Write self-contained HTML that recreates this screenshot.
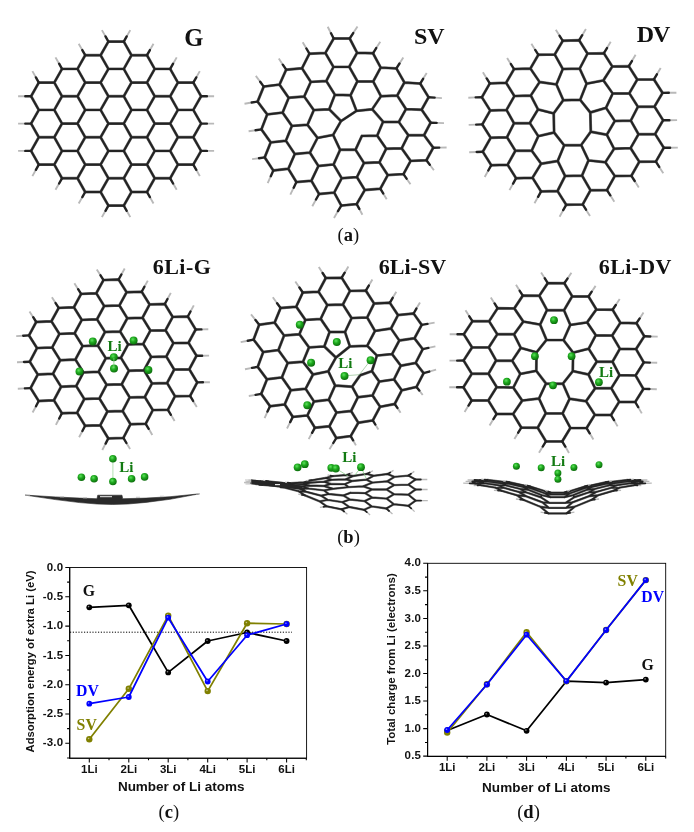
<!DOCTYPE html>
<html><head><meta charset="utf-8"><title>Figure</title>
<style>html,body{margin:0;padding:0;background:#fff}svg{display:block}</style>
</head><body>
<svg width="694" height="832" viewBox="0 0 694 832">
<defs><radialGradient id="li" cx="0.4" cy="0.35" r="0.65"><stop offset="0" stop-color="#5fe25f"/><stop offset="0.45" stop-color="#1faa1f"/><stop offset="1" stop-color="#0c6e0c"/></radialGradient></defs>
<rect width="694" height="832" fill="#fff"/>
<path d="M62.0 96.3L54.3 109.9M62.0 96.3L54.3 82.6M62.0 96.3L77.5 96.3M54.3 109.9L38.8 109.9M54.3 109.9L62.0 123.6M38.8 109.9L31.1 96.3M38.8 109.9L31.1 123.6M31.1 96.3L38.8 82.6M38.8 82.6L54.3 82.6M54.3 82.6L62.0 68.9M62.0 123.6L54.3 137.3M62.0 123.6L77.5 123.6M54.3 137.3L38.8 137.3M54.3 137.3L62.0 150.9M38.8 137.3L31.1 123.6M38.8 137.3L31.1 150.9M62.0 150.9L54.3 164.6M62.0 150.9L77.5 150.9M54.3 164.6L38.8 164.6M54.3 164.6L62.0 178.3M38.8 164.6L31.1 150.9M85.2 82.6L77.5 96.3M85.2 82.6L77.5 68.9M85.2 82.6L100.6 82.6M77.5 96.3L85.2 109.9M62.0 68.9L77.5 68.9M77.5 68.9L85.2 55.2M85.2 109.9L77.5 123.6M85.2 109.9L100.6 109.9M77.5 123.6L85.2 137.3M85.2 137.3L77.5 150.9M85.2 137.3L100.6 137.3M77.5 150.9L85.2 164.6M85.2 164.6L77.5 178.3M85.2 164.6L100.6 164.6M77.5 178.3L62.0 178.3M77.5 178.3L85.2 192.0M108.4 68.9L100.6 82.6M108.4 68.9L100.6 55.2M108.4 68.9L123.8 68.9M100.6 82.6L108.4 96.3M85.2 55.2L100.6 55.2M100.6 55.2L108.4 41.6M108.4 96.3L100.6 109.9M108.4 96.3L123.8 96.3M100.6 109.9L108.4 123.6M108.4 123.6L100.6 137.3M108.4 123.6L123.8 123.6M100.6 137.3L108.4 150.9M108.4 150.9L100.6 164.6M108.4 150.9L123.8 150.9M100.6 164.6L108.4 178.3M108.4 178.3L100.6 192.0M108.4 178.3L123.8 178.3M100.6 192.0L85.2 192.0M100.6 192.0L108.4 205.6M131.5 55.2L123.8 68.9M131.5 55.2L123.8 41.6M131.5 55.2L147.0 55.2M123.8 68.9L131.5 82.6M108.4 41.6L123.8 41.6M131.5 82.6L123.8 96.3M131.5 82.6L147.0 82.6M123.8 96.3L131.5 109.9M131.5 109.9L123.8 123.6M131.5 109.9L147.0 109.9M123.8 123.6L131.5 137.3M131.5 137.3L123.8 150.9M131.5 137.3L147.0 137.3M123.8 150.9L131.5 164.6M131.5 164.6L123.8 178.3M131.5 164.6L147.0 164.6M123.8 178.3L131.5 192.0M131.5 192.0L123.8 205.6M131.5 192.0L147.0 192.0M123.8 205.6L108.4 205.6M154.7 68.9L147.0 82.6M154.7 68.9L147.0 55.2M154.7 68.9L170.2 68.9M147.0 82.6L154.7 96.3M154.7 96.3L147.0 109.9M154.7 96.3L170.2 96.3M147.0 109.9L154.7 123.6M154.7 123.6L147.0 137.3M154.7 123.6L170.2 123.6M147.0 137.3L154.7 150.9M154.7 150.9L147.0 164.6M154.7 150.9L170.2 150.9M147.0 164.6L154.7 178.3M154.7 178.3L147.0 192.0M154.7 178.3L170.2 178.3M177.9 82.6L170.2 96.3M177.9 82.6L170.2 68.9M177.9 82.6L193.3 82.6M170.2 96.3L177.9 109.9M177.9 109.9L170.2 123.6M177.9 109.9L193.3 109.9M170.2 123.6L177.9 137.3M177.9 137.3L170.2 150.9M177.9 137.3L193.3 137.3M170.2 150.9L177.9 164.6M177.9 164.6L170.2 178.3M177.9 164.6L193.3 164.6M201.1 96.3L193.3 109.9M201.1 96.3L193.3 82.6M193.3 109.9L201.1 123.6M201.1 123.6L193.3 137.3M193.3 137.3L201.1 150.9M201.1 150.9L193.3 164.6" stroke="#7a7a7a" stroke-width="2.90" stroke-linecap="round" fill="none"/>
<path d="M62.0 96.3L54.3 109.9M62.0 96.3L54.3 82.6M62.0 96.3L77.5 96.3M54.3 109.9L38.8 109.9M54.3 109.9L62.0 123.6M38.8 109.9L31.1 96.3M38.8 109.9L31.1 123.6M31.1 96.3L38.8 82.6M38.8 82.6L54.3 82.6M54.3 82.6L62.0 68.9M62.0 123.6L54.3 137.3M62.0 123.6L77.5 123.6M54.3 137.3L38.8 137.3M54.3 137.3L62.0 150.9M38.8 137.3L31.1 123.6M38.8 137.3L31.1 150.9M62.0 150.9L54.3 164.6M62.0 150.9L77.5 150.9M54.3 164.6L38.8 164.6M54.3 164.6L62.0 178.3M38.8 164.6L31.1 150.9M85.2 82.6L77.5 96.3M85.2 82.6L77.5 68.9M85.2 82.6L100.6 82.6M77.5 96.3L85.2 109.9M62.0 68.9L77.5 68.9M77.5 68.9L85.2 55.2M85.2 109.9L77.5 123.6M85.2 109.9L100.6 109.9M77.5 123.6L85.2 137.3M85.2 137.3L77.5 150.9M85.2 137.3L100.6 137.3M77.5 150.9L85.2 164.6M85.2 164.6L77.5 178.3M85.2 164.6L100.6 164.6M77.5 178.3L62.0 178.3M77.5 178.3L85.2 192.0M108.4 68.9L100.6 82.6M108.4 68.9L100.6 55.2M108.4 68.9L123.8 68.9M100.6 82.6L108.4 96.3M85.2 55.2L100.6 55.2M100.6 55.2L108.4 41.6M108.4 96.3L100.6 109.9M108.4 96.3L123.8 96.3M100.6 109.9L108.4 123.6M108.4 123.6L100.6 137.3M108.4 123.6L123.8 123.6M100.6 137.3L108.4 150.9M108.4 150.9L100.6 164.6M108.4 150.9L123.8 150.9M100.6 164.6L108.4 178.3M108.4 178.3L100.6 192.0M108.4 178.3L123.8 178.3M100.6 192.0L85.2 192.0M100.6 192.0L108.4 205.6M131.5 55.2L123.8 68.9M131.5 55.2L123.8 41.6M131.5 55.2L147.0 55.2M123.8 68.9L131.5 82.6M108.4 41.6L123.8 41.6M131.5 82.6L123.8 96.3M131.5 82.6L147.0 82.6M123.8 96.3L131.5 109.9M131.5 109.9L123.8 123.6M131.5 109.9L147.0 109.9M123.8 123.6L131.5 137.3M131.5 137.3L123.8 150.9M131.5 137.3L147.0 137.3M123.8 150.9L131.5 164.6M131.5 164.6L123.8 178.3M131.5 164.6L147.0 164.6M123.8 178.3L131.5 192.0M131.5 192.0L123.8 205.6M131.5 192.0L147.0 192.0M123.8 205.6L108.4 205.6M154.7 68.9L147.0 82.6M154.7 68.9L147.0 55.2M154.7 68.9L170.2 68.9M147.0 82.6L154.7 96.3M154.7 96.3L147.0 109.9M154.7 96.3L170.2 96.3M147.0 109.9L154.7 123.6M154.7 123.6L147.0 137.3M154.7 123.6L170.2 123.6M147.0 137.3L154.7 150.9M154.7 150.9L147.0 164.6M154.7 150.9L170.2 150.9M147.0 164.6L154.7 178.3M154.7 178.3L147.0 192.0M154.7 178.3L170.2 178.3M177.9 82.6L170.2 96.3M177.9 82.6L170.2 68.9M177.9 82.6L193.3 82.6M170.2 96.3L177.9 109.9M177.9 109.9L170.2 123.6M177.9 109.9L193.3 109.9M170.2 123.6L177.9 137.3M177.9 137.3L170.2 150.9M177.9 137.3L193.3 137.3M170.2 150.9L177.9 164.6M177.9 164.6L170.2 178.3M177.9 164.6L193.3 164.6M201.1 96.3L193.3 109.9M201.1 96.3L193.3 82.6M193.3 109.9L201.1 123.6M201.1 123.6L193.3 137.3M193.3 137.3L201.1 150.9M201.1 150.9L193.3 164.6" stroke="#232323" stroke-width="2.05" stroke-linecap="round" fill="none"/>
<path d="M25.3 96.3L18.1 96.3M35.9 77.4L32.4 71.1M25.3 123.6L18.1 123.6M35.9 169.8L32.4 176.1M25.3 150.9L18.1 150.9M59.1 63.7L55.5 57.4M59.1 183.5L55.5 189.8M82.3 50.1L78.7 43.7M82.3 197.1L78.7 203.5M105.5 36.4L101.9 30.1M126.7 36.4L130.3 30.1M126.7 210.8L130.3 217.1M105.5 210.8L101.9 217.1M149.9 50.1L153.5 43.7M149.9 197.1L153.5 203.5M173.1 63.7L176.7 57.4M173.1 183.5L176.7 189.8M206.9 96.3L214.1 96.3M196.3 77.4L199.8 71.1M206.9 123.6L214.1 123.6M206.9 150.9L214.1 150.9M196.3 169.8L199.8 176.1" stroke="#b9b9b9" stroke-width="1.9" stroke-linecap="butt" fill="none"/>
<path d="M31.1 96.3L25.3 96.3M38.8 82.6L35.9 77.4M31.1 123.6L25.3 123.6M38.8 164.6L35.9 169.8M31.1 150.9L25.3 150.9M62.0 68.9L59.1 63.7M62.0 178.3L59.1 183.5M85.2 55.2L82.3 50.1M85.2 192.0L82.3 197.1M108.4 41.6L105.5 36.4M123.8 41.6L126.7 36.4M123.8 205.6L126.7 210.8M108.4 205.6L105.5 210.8M147.0 55.2L149.9 50.1M147.0 192.0L149.9 197.1M170.2 68.9L173.1 63.7M170.2 178.3L173.1 183.5M201.1 96.3L206.9 96.3M193.3 82.6L196.3 77.4M201.1 123.6L206.9 123.6M201.1 150.9L206.9 150.9M193.3 164.6L196.3 169.8" stroke="#232323" stroke-width="2.4" stroke-linecap="round" fill="none"/>
<path d="M288.7 97.8L282.6 112.6M288.7 97.8L279.5 84.6M288.7 97.8L304.2 96.5M282.6 112.6L267.2 114.4M282.6 112.6L291.9 125.9M267.2 114.4L257.6 101.6M267.2 114.4L261.4 129.4M257.6 101.6L263.7 86.6M263.7 86.6L279.5 84.6M279.5 84.6L286.2 69.7M291.9 125.9L285.9 140.7M291.9 125.9L307.5 124.8M285.9 140.7L270.7 142.4M285.9 140.7L294.8 154.0M270.7 142.4L261.4 129.4M270.7 142.4L264.7 157.4M294.8 154.0L288.3 168.8M294.8 154.0L309.9 152.6M288.3 168.8L273.3 170.5M288.3 168.8L296.4 182.1M273.3 170.5L264.7 157.4M310.8 81.9L304.2 96.5M310.8 81.9L302.0 68.3M310.8 81.9L326.3 81.0M304.2 96.5L313.8 110.1M286.2 69.7L302.0 68.3M302.0 68.3L309.4 53.7M313.8 110.1L307.5 124.8M313.8 110.1L329.2 109.3M307.5 124.8L317.5 137.9M317.5 137.9L309.9 152.6M317.5 137.9L333.1 134.9M309.9 152.6L318.4 166.0M318.4 166.0L311.4 180.7M318.4 166.0L333.6 164.4M311.4 180.7L296.4 182.1M311.4 180.7L319.1 194.0M333.5 66.9L326.3 81.0M333.5 66.9L325.4 52.9M333.5 66.9L349.2 66.8M326.3 81.0L334.9 94.7M309.4 53.7L325.4 52.9M325.4 52.9L333.7 38.5M334.9 94.7L329.2 109.3M334.9 94.7L350.5 95.3M329.2 109.3L341.0 121.1M341.0 121.1L333.1 134.9M333.1 134.9L340.1 149.8M340.1 149.8L333.6 164.4M340.1 149.8L355.5 149.8M333.6 164.4L341.7 178.2M341.7 178.2L334.2 192.6M341.7 178.2L356.9 177.1M334.2 192.6L319.1 194.0M334.2 192.6L341.3 205.6M357.1 52.8L349.2 66.8M357.1 52.8L349.7 38.5M357.1 52.8L373.0 53.3M349.2 66.8L357.4 81.2M333.7 38.5L349.7 38.5M357.4 81.2L350.5 95.3M357.4 81.2L373.2 81.5M350.5 95.3L356.5 110.9M356.5 110.9L372.2 109.2M361.9 135.9L355.5 149.8M361.9 135.9L377.2 135.6M355.5 149.8L364.0 163.0M364.0 163.0L356.9 177.1M364.0 163.0L379.4 162.3M356.9 177.1L364.8 190.0M364.8 190.0L356.7 204.1M364.8 190.0L380.3 188.7M356.7 204.1L341.3 205.6M380.7 67.6L373.2 81.5M380.7 67.6L373.0 53.3M380.7 67.6L396.4 68.4M373.2 81.5L381.0 96.2M381.0 96.2L372.2 109.2M381.0 96.2L397.2 95.5M372.2 109.2L383.1 121.7M383.1 121.7L377.2 135.6M383.1 121.7L398.8 122.0M377.2 135.6L386.2 148.7M386.2 148.7L379.4 162.3M386.2 148.7L401.7 148.3M379.4 162.3L387.8 175.1M387.8 175.1L380.3 188.7M387.8 175.1L403.5 174.1M404.4 82.5L397.2 95.5M404.4 82.5L396.4 68.4M404.4 82.5L420.2 83.6M397.2 95.5L406.0 109.1M406.0 109.1L398.8 122.0M406.0 109.1L421.6 109.7M398.8 122.0L408.3 135.2M408.3 135.2L401.7 148.3M408.3 135.2L424.0 135.2M401.7 148.3L410.6 160.9M410.6 160.9L403.5 174.1M410.6 160.9L426.4 160.3M428.6 97.2L421.6 109.7M428.6 97.2L420.2 83.6M421.6 109.7L430.6 122.7M430.6 122.7L424.0 135.2M424.0 135.2L433.2 147.7M433.2 147.7L426.4 160.3M341.0 121.1L356.5 110.9" stroke="#7a7a7a" stroke-width="2.90" stroke-linecap="round" fill="none"/>
<path d="M288.7 97.8L282.6 112.6M288.7 97.8L279.5 84.6M288.7 97.8L304.2 96.5M282.6 112.6L267.2 114.4M282.6 112.6L291.9 125.9M267.2 114.4L257.6 101.6M267.2 114.4L261.4 129.4M257.6 101.6L263.7 86.6M263.7 86.6L279.5 84.6M279.5 84.6L286.2 69.7M291.9 125.9L285.9 140.7M291.9 125.9L307.5 124.8M285.9 140.7L270.7 142.4M285.9 140.7L294.8 154.0M270.7 142.4L261.4 129.4M270.7 142.4L264.7 157.4M294.8 154.0L288.3 168.8M294.8 154.0L309.9 152.6M288.3 168.8L273.3 170.5M288.3 168.8L296.4 182.1M273.3 170.5L264.7 157.4M310.8 81.9L304.2 96.5M310.8 81.9L302.0 68.3M310.8 81.9L326.3 81.0M304.2 96.5L313.8 110.1M286.2 69.7L302.0 68.3M302.0 68.3L309.4 53.7M313.8 110.1L307.5 124.8M313.8 110.1L329.2 109.3M307.5 124.8L317.5 137.9M317.5 137.9L309.9 152.6M317.5 137.9L333.1 134.9M309.9 152.6L318.4 166.0M318.4 166.0L311.4 180.7M318.4 166.0L333.6 164.4M311.4 180.7L296.4 182.1M311.4 180.7L319.1 194.0M333.5 66.9L326.3 81.0M333.5 66.9L325.4 52.9M333.5 66.9L349.2 66.8M326.3 81.0L334.9 94.7M309.4 53.7L325.4 52.9M325.4 52.9L333.7 38.5M334.9 94.7L329.2 109.3M334.9 94.7L350.5 95.3M329.2 109.3L341.0 121.1M341.0 121.1L333.1 134.9M333.1 134.9L340.1 149.8M340.1 149.8L333.6 164.4M340.1 149.8L355.5 149.8M333.6 164.4L341.7 178.2M341.7 178.2L334.2 192.6M341.7 178.2L356.9 177.1M334.2 192.6L319.1 194.0M334.2 192.6L341.3 205.6M357.1 52.8L349.2 66.8M357.1 52.8L349.7 38.5M357.1 52.8L373.0 53.3M349.2 66.8L357.4 81.2M333.7 38.5L349.7 38.5M357.4 81.2L350.5 95.3M357.4 81.2L373.2 81.5M350.5 95.3L356.5 110.9M356.5 110.9L372.2 109.2M361.9 135.9L355.5 149.8M361.9 135.9L377.2 135.6M355.5 149.8L364.0 163.0M364.0 163.0L356.9 177.1M364.0 163.0L379.4 162.3M356.9 177.1L364.8 190.0M364.8 190.0L356.7 204.1M364.8 190.0L380.3 188.7M356.7 204.1L341.3 205.6M380.7 67.6L373.2 81.5M380.7 67.6L373.0 53.3M380.7 67.6L396.4 68.4M373.2 81.5L381.0 96.2M381.0 96.2L372.2 109.2M381.0 96.2L397.2 95.5M372.2 109.2L383.1 121.7M383.1 121.7L377.2 135.6M383.1 121.7L398.8 122.0M377.2 135.6L386.2 148.7M386.2 148.7L379.4 162.3M386.2 148.7L401.7 148.3M379.4 162.3L387.8 175.1M387.8 175.1L380.3 188.7M387.8 175.1L403.5 174.1M404.4 82.5L397.2 95.5M404.4 82.5L396.4 68.4M404.4 82.5L420.2 83.6M397.2 95.5L406.0 109.1M406.0 109.1L398.8 122.0M406.0 109.1L421.6 109.7M398.8 122.0L408.3 135.2M408.3 135.2L401.7 148.3M408.3 135.2L424.0 135.2M401.7 148.3L410.6 160.9M410.6 160.9L403.5 174.1M410.6 160.9L426.4 160.3M428.6 97.2L421.6 109.7M428.6 97.2L420.2 83.6M421.6 109.7L430.6 122.7M430.6 122.7L424.0 135.2M424.0 135.2L433.2 147.7M433.2 147.7L426.4 160.3M341.0 121.1L356.5 110.9" stroke="#232323" stroke-width="2.05" stroke-linecap="round" fill="none"/>
<path d="M251.7 102.5L244.5 103.7M260.2 81.7L255.8 75.9M255.6 130.3L248.6 131.3M270.8 176.2L267.7 183.1M259.0 158.2L252.1 159.1M282.8 64.7L278.8 58.6M293.7 187.7L290.3 194.6M306.4 48.5L302.7 42.2M316.0 199.5L312.3 206.3M331.0 33.2L327.7 26.7M353.2 33.1L357.5 26.6M359.3 208.9L362.4 214.8M338.0 211.1L334.0 217.9M376.2 48.1L380.3 41.8M383.2 193.4L386.7 199.2M399.5 63.5L403.3 57.4M406.6 178.7L410.5 184.3M434.6 97.6L441.9 98.1M423.1 78.8L426.7 73.1M436.6 122.9L444.0 123.1M439.2 147.6L446.6 147.5M429.8 164.8L433.9 170.3" stroke="#b9b9b9" stroke-width="1.9" stroke-linecap="butt" fill="none"/>
<path d="M257.6 101.6L251.7 102.5M263.7 86.6L260.2 81.7M261.4 129.4L255.6 130.3M273.3 170.5L270.8 176.2M264.7 157.4L259.0 158.2M286.2 69.7L282.8 64.7M296.4 182.1L293.7 187.7M309.4 53.7L306.4 48.5M319.1 194.0L316.0 199.5M333.7 38.5L331.0 33.2M349.7 38.5L353.2 33.1M356.7 204.1L359.3 208.9M341.3 205.6L338.0 211.1M373.0 53.3L376.2 48.1M380.3 188.7L383.2 193.4M396.4 68.4L399.5 63.5M403.5 174.1L406.6 178.7M428.6 97.2L434.6 97.6M420.2 83.6L423.1 78.8M430.6 122.7L436.6 122.9M433.2 147.7L439.2 147.6M426.4 160.3L429.8 164.8" stroke="#232323" stroke-width="2.4" stroke-linecap="round" fill="none"/>
<path d="M514.4 96.1L506.5 109.9M514.4 96.1L506.1 82.8M514.4 96.1L530.8 95.5M506.5 109.9L490.2 110.5M506.5 109.9L514.0 123.3M490.2 110.5L481.9 97.2M490.2 110.5L482.3 124.4M481.9 97.2L489.8 83.4M489.8 83.4L506.1 82.8M506.1 82.8L514.1 69.1M514.0 123.3L507.0 137.2M514.0 123.3L529.8 123.0M507.0 137.2L490.7 137.8M507.0 137.2L515.4 150.7M490.7 137.8L482.3 124.4M490.7 137.8L482.8 151.7M515.4 150.7L507.6 164.7M515.4 150.7L531.7 150.6M507.6 164.7L491.3 165.2M507.6 164.7L516.1 178.2M491.3 165.2L482.8 151.7M539.6 82.0L530.8 95.5M539.6 82.0L530.4 68.5M539.6 82.0L556.4 84.4M530.8 95.5L538.0 109.4M514.1 69.1L530.4 68.5M530.4 68.5L538.4 54.8M538.0 109.4L529.8 123.0M538.0 109.4L553.7 113.4M529.8 123.0L538.3 136.2M538.3 136.2L531.7 150.6M538.3 136.2L554.1 132.5M531.7 150.6L541.1 163.7M541.1 163.7L532.5 177.8M541.1 163.7L557.7 161.0M532.5 177.8L516.1 178.2M532.5 177.8L541.1 191.4M562.8 69.0L556.4 84.4M562.8 69.0L554.7 54.4M562.8 69.0L579.7 68.6M556.4 84.4L563.3 100.2M538.4 54.8L554.7 54.4M554.7 54.4L562.8 40.8M563.3 100.2L553.7 113.4M563.3 100.2L580.2 99.8M554.1 132.5L564.2 145.3M564.2 145.3L557.7 161.0M564.2 145.3L581.2 145.0M557.7 161.0L565.1 176.0M565.1 176.0L557.5 191.0M565.1 176.0L582.0 175.6M557.5 191.0L541.1 191.4M557.5 191.0L566.2 204.8M587.5 53.6L579.7 68.6M587.5 53.6L579.1 40.3M587.5 53.6L603.9 53.2M579.7 68.6L586.6 83.7M562.8 40.8L579.1 40.3M586.6 83.7L580.2 99.8M586.6 83.7L603.4 80.4M580.2 99.8L590.3 112.5M590.3 112.5L606.0 107.8M590.8 131.7L581.2 145.0M590.8 131.7L606.8 134.7M581.2 145.0L588.5 160.4M588.5 160.4L582.0 175.6M588.5 160.4L605.4 162.3M582.0 175.6L590.5 190.3M590.5 190.3L582.7 204.4M590.5 190.3L607.0 190.1M582.7 204.4L566.2 204.8M612.3 66.5L603.4 80.4M612.3 66.5L603.9 53.2M612.3 66.5L628.8 66.2M603.4 80.4L612.7 93.5M612.7 93.5L606.0 107.8M612.7 93.5L629.3 93.3M606.0 107.8L614.8 121.0M614.8 121.0L606.8 134.7M614.8 121.0L630.8 120.6M606.8 134.7L614.1 148.8M614.1 148.8L605.4 162.3M614.1 148.8L630.6 148.1M605.4 162.3L614.8 176.0M614.8 176.0L607.0 190.1M614.8 176.0L631.4 175.8M637.3 79.6L629.3 93.3M637.3 79.6L628.8 66.2M637.3 79.6L653.9 79.4M629.3 93.3L637.9 106.8M637.9 106.8L630.8 120.6M637.9 106.8L654.5 106.6M630.8 120.6L638.5 134.2M638.5 134.2L630.6 148.1M638.5 134.2L655.1 134.0M630.6 148.1L639.3 161.8M639.3 161.8L631.4 175.8M639.3 161.8L655.9 161.6M662.5 92.9L654.5 106.6M662.5 92.9L653.9 79.4M654.5 106.6L663.1 120.2M663.1 120.2L655.1 134.0M655.1 134.0L663.8 147.7M663.8 147.7L655.9 161.6M590.3 112.5L590.8 131.7M553.7 113.4L554.1 132.5" stroke="#7a7a7a" stroke-width="2.90" stroke-linecap="round" fill="none"/>
<path d="M514.4 96.1L506.5 109.9M514.4 96.1L506.1 82.8M514.4 96.1L530.8 95.5M506.5 109.9L490.2 110.5M506.5 109.9L514.0 123.3M490.2 110.5L481.9 97.2M490.2 110.5L482.3 124.4M481.9 97.2L489.8 83.4M489.8 83.4L506.1 82.8M506.1 82.8L514.1 69.1M514.0 123.3L507.0 137.2M514.0 123.3L529.8 123.0M507.0 137.2L490.7 137.8M507.0 137.2L515.4 150.7M490.7 137.8L482.3 124.4M490.7 137.8L482.8 151.7M515.4 150.7L507.6 164.7M515.4 150.7L531.7 150.6M507.6 164.7L491.3 165.2M507.6 164.7L516.1 178.2M491.3 165.2L482.8 151.7M539.6 82.0L530.8 95.5M539.6 82.0L530.4 68.5M539.6 82.0L556.4 84.4M530.8 95.5L538.0 109.4M514.1 69.1L530.4 68.5M530.4 68.5L538.4 54.8M538.0 109.4L529.8 123.0M538.0 109.4L553.7 113.4M529.8 123.0L538.3 136.2M538.3 136.2L531.7 150.6M538.3 136.2L554.1 132.5M531.7 150.6L541.1 163.7M541.1 163.7L532.5 177.8M541.1 163.7L557.7 161.0M532.5 177.8L516.1 178.2M532.5 177.8L541.1 191.4M562.8 69.0L556.4 84.4M562.8 69.0L554.7 54.4M562.8 69.0L579.7 68.6M556.4 84.4L563.3 100.2M538.4 54.8L554.7 54.4M554.7 54.4L562.8 40.8M563.3 100.2L553.7 113.4M563.3 100.2L580.2 99.8M554.1 132.5L564.2 145.3M564.2 145.3L557.7 161.0M564.2 145.3L581.2 145.0M557.7 161.0L565.1 176.0M565.1 176.0L557.5 191.0M565.1 176.0L582.0 175.6M557.5 191.0L541.1 191.4M557.5 191.0L566.2 204.8M587.5 53.6L579.7 68.6M587.5 53.6L579.1 40.3M587.5 53.6L603.9 53.2M579.7 68.6L586.6 83.7M562.8 40.8L579.1 40.3M586.6 83.7L580.2 99.8M586.6 83.7L603.4 80.4M580.2 99.8L590.3 112.5M590.3 112.5L606.0 107.8M590.8 131.7L581.2 145.0M590.8 131.7L606.8 134.7M581.2 145.0L588.5 160.4M588.5 160.4L582.0 175.6M588.5 160.4L605.4 162.3M582.0 175.6L590.5 190.3M590.5 190.3L582.7 204.4M590.5 190.3L607.0 190.1M582.7 204.4L566.2 204.8M612.3 66.5L603.4 80.4M612.3 66.5L603.9 53.2M612.3 66.5L628.8 66.2M603.4 80.4L612.7 93.5M612.7 93.5L606.0 107.8M612.7 93.5L629.3 93.3M606.0 107.8L614.8 121.0M614.8 121.0L606.8 134.7M614.8 121.0L630.8 120.6M606.8 134.7L614.1 148.8M614.1 148.8L605.4 162.3M614.1 148.8L630.6 148.1M605.4 162.3L614.8 176.0M614.8 176.0L607.0 190.1M614.8 176.0L631.4 175.8M637.3 79.6L629.3 93.3M637.3 79.6L628.8 66.2M637.3 79.6L653.9 79.4M629.3 93.3L637.9 106.8M637.9 106.8L630.8 120.6M637.9 106.8L654.5 106.6M630.8 120.6L638.5 134.2M638.5 134.2L630.6 148.1M638.5 134.2L655.1 134.0M630.6 148.1L639.3 161.8M639.3 161.8L631.4 175.8M639.3 161.8L655.9 161.6M662.5 92.9L654.5 106.6M662.5 92.9L653.9 79.4M654.5 106.6L663.1 120.2M663.1 120.2L655.1 134.0M655.1 134.0L663.8 147.7M663.8 147.7L655.9 161.6M590.3 112.5L590.8 131.7M553.7 113.4L554.1 132.5" stroke="#232323" stroke-width="2.05" stroke-linecap="round" fill="none"/>
<path d="M475.7 97.4L468.3 97.7M486.7 78.4L482.9 72.3M476.2 124.6L468.7 124.9M488.3 170.5L484.7 177.0M476.7 152.0L469.2 152.3M510.9 64.1L507.1 58.0M513.1 183.6L509.5 190.1M535.2 49.9L531.4 43.8M538.1 196.8L534.5 203.3M559.6 35.8L555.8 29.7M582.2 35.2L585.9 28.9M586.0 209.7L590.0 216.1M563.2 210.1L559.6 216.7M607.0 48.1L610.7 41.8M610.3 195.3L614.3 201.7M631.9 61.1L635.6 54.8M634.7 181.0L638.8 187.4M668.8 92.8L676.4 92.8M656.9 74.3L660.7 68.0M669.4 120.2L677.1 120.1M670.1 147.7L677.8 147.6M659.2 166.9L663.3 173.2" stroke="#b9b9b9" stroke-width="1.9" stroke-linecap="butt" fill="none"/>
<path d="M481.9 97.2L475.7 97.4M489.8 83.4L486.7 78.4M482.3 124.4L476.2 124.6M491.3 165.2L488.3 170.5M482.8 151.7L476.7 152.0M514.1 69.1L510.9 64.1M516.1 178.2L513.1 183.6M538.4 54.8L535.2 49.9M541.1 191.4L538.1 196.8M562.8 40.8L559.6 35.8M579.1 40.3L582.2 35.2M582.7 204.4L586.0 209.7M566.2 204.8L563.2 210.1M603.9 53.2L607.0 48.1M607.0 190.1L610.3 195.3M628.8 66.2L631.9 61.1M631.4 175.8L634.7 181.0M662.5 92.9L668.8 92.8M653.9 79.4L656.9 74.3M663.1 120.2L669.4 120.2M663.8 147.7L670.1 147.7M655.9 161.6L659.2 166.9" stroke="#232323" stroke-width="2.4" stroke-linecap="round" fill="none"/>
<text x="184.2" y="46.0" font-family='"Liberation Serif", serif' font-size="24.6" font-weight="bold" fill="#111" text-anchor="start" >G</text>
<text x="413.9" y="43.8" font-family='"Liberation Serif", serif' font-size="24" font-weight="bold" fill="#111" text-anchor="start" >SV</text>
<text x="636.8" y="42.0" font-family='"Liberation Serif", serif' font-size="24" font-weight="bold" fill="#111" text-anchor="start" textLength="33.6">DV</text>
<text x="348.4" y="240.8" font-family='"Liberation Serif", serif' font-size="18.5" font-weight="normal" fill="#111" text-anchor="middle" >(<tspan font-weight="bold">a</tspan>)</text>
<path d="M59.4 333.9L52.2 347.4M59.4 333.9L51.4 321.2M59.4 333.9L74.6 333.3M52.2 347.4L37.0 348.1M52.2 347.4L60.2 360.2M37.0 348.1L29.0 335.4M37.0 348.1L29.8 361.7M29.0 335.4L36.2 322.0M36.2 322.0L51.4 321.2M51.4 321.2L58.7 307.9M60.2 360.2L53.0 373.7M60.2 360.2L75.4 359.5M53.0 373.7L37.8 374.5M53.0 373.7L61.1 386.7M37.8 374.5L29.8 361.7M37.8 374.5L30.6 388.1M61.1 386.7L53.9 400.3M61.1 386.7L76.2 386.0M53.9 400.3L38.7 401.0M53.9 400.3L61.9 413.3M38.7 401.0L30.6 388.1M81.8 319.9L74.6 333.3M81.8 319.9L73.9 307.2M81.8 319.9L97.0 319.3M74.6 333.3L82.6 346.1M58.7 307.9L73.9 307.2M73.9 307.2L81.1 293.9M82.6 346.1L75.4 359.5M82.6 346.1L97.8 345.5M75.4 359.5L83.4 372.4M83.4 372.4L76.2 386.0M83.4 372.4L98.6 371.8M76.2 386.0L84.3 399.0M84.3 399.0L77.1 412.7M84.3 399.0L99.4 398.4M77.1 412.7L61.9 413.3M77.1 412.7L85.1 425.8M104.2 306.0L97.0 319.3M104.2 306.0L96.3 293.3M104.2 306.0L119.4 305.4M97.0 319.3L105.0 332.0M81.1 293.9L96.3 293.3M96.3 293.3L103.5 280.1M105.0 332.0L97.8 345.5M105.0 332.0L120.1 331.5M97.8 345.5L105.8 358.3M105.8 358.3L98.6 371.8M105.8 358.3L120.9 357.8M98.6 371.8L106.6 384.8M106.6 384.8L99.4 398.4M106.6 384.8L121.7 384.3M99.4 398.4L107.4 411.5M107.4 411.5L100.3 425.2M107.4 411.5L122.6 411.0M100.3 425.2L85.1 425.8M100.3 425.2L108.3 438.4M126.6 292.2L119.4 305.4M126.6 292.2L118.6 279.5M126.6 292.2L141.7 291.7M119.4 305.4L127.3 318.2M103.5 280.1L118.6 279.5M127.3 318.2L120.1 331.5M127.3 318.2L142.5 317.7M120.1 331.5L128.1 344.4M128.1 344.4L120.9 357.8M128.1 344.4L143.2 343.9M120.9 357.8L128.9 370.8M128.9 370.8L121.7 384.3M128.9 370.8L144.0 370.3M121.7 384.3L129.7 397.4M129.7 397.4L122.6 411.0M129.7 397.4L144.8 397.0M122.6 411.0L130.5 424.2M130.5 424.2L123.4 437.9M130.5 424.2L145.7 423.8M123.4 437.9L108.3 438.4M149.6 304.4L142.5 317.7M149.6 304.4L141.7 291.7M149.6 304.4L164.8 304.0M142.5 317.7L150.4 330.6M150.4 330.6L143.2 343.9M150.4 330.6L165.5 330.2M143.2 343.9L151.2 356.9M151.2 356.9L144.0 370.3M151.2 356.9L166.3 356.5M144.0 370.3L152.0 383.4M152.0 383.4L144.8 397.0M152.0 383.4L167.1 383.0M144.8 397.0L152.8 410.1M152.8 410.1L145.7 423.8M152.8 410.1L167.9 409.8M172.7 316.9L165.5 330.2M172.7 316.9L164.8 304.0M172.7 316.9L187.8 316.5M165.5 330.2L173.4 343.1M173.4 343.1L166.3 356.5M173.4 343.1L188.5 342.8M166.3 356.5L174.2 369.6M174.2 369.6L167.1 383.0M174.2 369.6L189.3 369.2M167.1 383.0L175.0 396.2M175.0 396.2L167.9 409.8M175.0 396.2L190.1 395.9M195.7 329.5L188.5 342.8M195.7 329.5L187.8 316.5M188.5 342.8L196.5 355.8M196.5 355.8L189.3 369.2M189.3 369.2L197.2 382.4M197.2 382.4L190.1 395.9" stroke="#7a7a7a" stroke-width="2.90" stroke-linecap="round" fill="none"/>
<path d="M59.4 333.9L52.2 347.4M59.4 333.9L51.4 321.2M59.4 333.9L74.6 333.3M52.2 347.4L37.0 348.1M52.2 347.4L60.2 360.2M37.0 348.1L29.0 335.4M37.0 348.1L29.8 361.7M29.0 335.4L36.2 322.0M36.2 322.0L51.4 321.2M51.4 321.2L58.7 307.9M60.2 360.2L53.0 373.7M60.2 360.2L75.4 359.5M53.0 373.7L37.8 374.5M53.0 373.7L61.1 386.7M37.8 374.5L29.8 361.7M37.8 374.5L30.6 388.1M61.1 386.7L53.9 400.3M61.1 386.7L76.2 386.0M53.9 400.3L38.7 401.0M53.9 400.3L61.9 413.3M38.7 401.0L30.6 388.1M81.8 319.9L74.6 333.3M81.8 319.9L73.9 307.2M81.8 319.9L97.0 319.3M74.6 333.3L82.6 346.1M58.7 307.9L73.9 307.2M73.9 307.2L81.1 293.9M82.6 346.1L75.4 359.5M82.6 346.1L97.8 345.5M75.4 359.5L83.4 372.4M83.4 372.4L76.2 386.0M83.4 372.4L98.6 371.8M76.2 386.0L84.3 399.0M84.3 399.0L77.1 412.7M84.3 399.0L99.4 398.4M77.1 412.7L61.9 413.3M77.1 412.7L85.1 425.8M104.2 306.0L97.0 319.3M104.2 306.0L96.3 293.3M104.2 306.0L119.4 305.4M97.0 319.3L105.0 332.0M81.1 293.9L96.3 293.3M96.3 293.3L103.5 280.1M105.0 332.0L97.8 345.5M105.0 332.0L120.1 331.5M97.8 345.5L105.8 358.3M105.8 358.3L98.6 371.8M105.8 358.3L120.9 357.8M98.6 371.8L106.6 384.8M106.6 384.8L99.4 398.4M106.6 384.8L121.7 384.3M99.4 398.4L107.4 411.5M107.4 411.5L100.3 425.2M107.4 411.5L122.6 411.0M100.3 425.2L85.1 425.8M100.3 425.2L108.3 438.4M126.6 292.2L119.4 305.4M126.6 292.2L118.6 279.5M126.6 292.2L141.7 291.7M119.4 305.4L127.3 318.2M103.5 280.1L118.6 279.5M127.3 318.2L120.1 331.5M127.3 318.2L142.5 317.7M120.1 331.5L128.1 344.4M128.1 344.4L120.9 357.8M128.1 344.4L143.2 343.9M120.9 357.8L128.9 370.8M128.9 370.8L121.7 384.3M128.9 370.8L144.0 370.3M121.7 384.3L129.7 397.4M129.7 397.4L122.6 411.0M129.7 397.4L144.8 397.0M122.6 411.0L130.5 424.2M130.5 424.2L123.4 437.9M130.5 424.2L145.7 423.8M123.4 437.9L108.3 438.4M149.6 304.4L142.5 317.7M149.6 304.4L141.7 291.7M149.6 304.4L164.8 304.0M142.5 317.7L150.4 330.6M150.4 330.6L143.2 343.9M150.4 330.6L165.5 330.2M143.2 343.9L151.2 356.9M151.2 356.9L144.0 370.3M151.2 356.9L166.3 356.5M144.0 370.3L152.0 383.4M152.0 383.4L144.8 397.0M152.0 383.4L167.1 383.0M144.8 397.0L152.8 410.1M152.8 410.1L145.7 423.8M152.8 410.1L167.9 409.8M172.7 316.9L165.5 330.2M172.7 316.9L164.8 304.0M172.7 316.9L187.8 316.5M165.5 330.2L173.4 343.1M173.4 343.1L166.3 356.5M173.4 343.1L188.5 342.8M166.3 356.5L174.2 369.6M174.2 369.6L167.1 383.0M174.2 369.6L189.3 369.2M167.1 383.0L175.0 396.2M175.0 396.2L167.9 409.8M175.0 396.2L190.1 395.9M195.7 329.5L188.5 342.8M195.7 329.5L187.8 316.5M188.5 342.8L196.5 355.8M196.5 355.8L189.3 369.2M189.3 369.2L197.2 382.4M197.2 382.4L190.1 395.9" stroke="#232323" stroke-width="2.05" stroke-linecap="round" fill="none"/>
<path d="M23.2 335.7L16.2 336.1M33.2 317.2L29.5 311.4M24.0 362.0L17.0 362.3M36.0 406.2L32.6 412.5M24.9 388.4L17.8 388.8M55.6 303.1L51.9 297.3M59.2 418.5L55.9 424.9M78.1 289.2L74.4 283.3M82.4 431.0L79.1 437.3M100.5 275.3L96.8 269.5M121.4 274.5L124.7 268.5M126.4 443.0L130.1 449.1M105.6 443.6L102.3 450.0M144.4 286.7L147.8 280.6M148.7 428.8L152.3 434.9M167.5 299.0L170.8 292.9M170.9 414.8L174.6 420.9M201.4 329.4L208.3 329.2M190.5 311.5L193.8 305.4M202.1 355.7L209.1 355.6M202.9 382.3L209.9 382.2M193.1 400.9L196.8 407.0" stroke="#b9b9b9" stroke-width="1.9" stroke-linecap="butt" fill="none"/>
<path d="M29.0 335.4L23.2 335.7M36.2 322.0L33.2 317.2M29.8 361.7L24.0 362.0M38.7 401.0L36.0 406.2M30.6 388.1L24.9 388.4M58.7 307.9L55.6 303.1M61.9 413.3L59.2 418.5M81.1 293.9L78.1 289.2M85.1 425.8L82.4 431.0M103.5 280.1L100.5 275.3M118.6 279.5L121.4 274.5M123.4 437.9L126.4 443.0M108.3 438.4L105.6 443.6M141.7 291.7L144.4 286.7M145.7 423.8L148.7 428.8M164.8 304.0L167.5 299.0M167.9 409.8L170.9 414.8M195.7 329.5L201.4 329.4M187.8 316.5L190.5 311.5M196.5 355.8L202.1 355.7M197.2 382.4L202.9 382.3M190.1 395.9L193.1 400.9" stroke="#232323" stroke-width="2.4" stroke-linecap="round" fill="none"/>
<path d="M284.1 335.5L278.4 350.1M284.1 335.5L274.6 322.6M284.1 335.5L299.4 334.2M278.4 350.1L263.2 352.1M278.4 350.1L287.7 363.0M263.2 352.1L253.6 339.6M263.2 352.1L257.7 366.9M253.6 339.6L259.2 324.7M259.2 324.7L274.6 322.6M274.6 322.6L280.6 308.0M287.7 363.0L281.9 377.4M287.7 363.0L303.0 361.8M281.9 377.4L267.0 379.3M281.9 377.4L290.8 390.2M267.0 379.3L257.7 366.9M267.0 379.3L261.2 393.9M290.8 390.2L284.7 404.4M290.8 390.2L305.6 388.8M284.7 404.4L270.0 406.2M284.7 404.4L292.8 416.9M270.0 406.2L261.2 393.9M305.4 319.9L299.4 334.2M305.4 319.9L296.2 306.7M305.4 319.9L320.7 318.9M299.4 334.2L309.0 347.4M280.6 308.0L296.2 306.7M296.2 306.7L302.8 292.5M309.0 347.4L303.0 361.8M309.0 347.4L324.3 346.4M303.0 361.8L313.0 374.5M313.0 374.5L305.6 388.8M313.0 374.5L328.3 371.3M305.6 388.8L314.0 401.5M314.0 401.5L307.4 415.4M314.0 401.5L328.8 399.7M307.4 415.4L292.8 416.9M307.4 415.4L314.9 427.7M327.3 305.0L320.7 318.9M327.3 305.0L318.5 291.7M327.3 305.0L342.9 304.5M320.7 318.9L329.6 331.9M302.8 292.5L318.5 291.7M318.5 291.7L325.8 278.0M329.6 331.9L324.3 346.4M329.6 331.9L345.0 332.0M324.3 346.4L335.9 357.6M335.9 357.6L328.3 371.3M328.3 371.3L335.1 385.5M335.1 385.5L328.8 399.7M335.1 385.5L352.2 386.7M328.8 399.7L336.5 412.6M336.5 412.6L329.4 426.2M336.5 412.6L351.1 411.0M329.4 426.2L314.9 427.7M329.4 426.2L336.3 438.0M350.0 290.9L342.9 304.5M350.0 290.9L341.7 277.7M350.0 290.9L365.8 290.6M342.9 304.5L351.6 318.1M325.8 278.0L341.7 277.7M351.6 318.1L345.0 332.0M351.6 318.1L367.2 317.4M345.0 332.0L349.9 346.4M349.9 346.4L367.2 345.8M360.1 375.3L352.2 386.7M360.1 375.3L371.9 371.1M352.2 386.7L357.9 397.2M357.9 397.2L351.1 411.0M357.9 397.2L372.5 395.4M351.1 411.0L358.3 422.7M358.3 422.7L350.7 436.1M358.3 422.7L372.8 420.4M350.7 436.1L336.3 438.0M374.1 303.5L367.2 317.4M374.1 303.5L365.8 290.6M374.1 303.5L389.8 302.8M367.2 317.4L375.0 330.9M375.0 330.9L367.2 345.8M375.0 330.9L391.0 328.5M367.2 345.8L376.9 355.6M376.9 355.6L371.9 371.1M376.9 355.6L392.1 354.1M371.9 371.1L379.3 381.6M379.3 381.6L372.5 395.4M379.3 381.6L394.0 379.4M372.5 395.4L380.1 406.8M380.1 406.8L372.8 420.4M380.1 406.8L394.7 404.0M398.0 315.1L391.0 328.5M398.0 315.1L389.8 302.8M398.0 315.1L413.6 313.5M391.0 328.5L399.3 340.5M399.3 340.5L392.1 354.1M399.3 340.5L414.5 338.3M392.1 354.1L400.8 365.7M400.8 365.7L394.0 379.4M400.8 365.7L415.7 362.9M394.0 379.4L401.8 390.3M401.8 390.3L394.7 404.0M401.8 390.3L416.5 386.9M421.7 324.9L414.5 338.3M421.7 324.9L413.6 313.5M414.5 338.3L422.7 349.2M422.7 349.2L415.7 362.9M415.7 362.9L423.6 373.2M423.6 373.2L416.5 386.9M335.9 357.6L349.9 346.4" stroke="#7a7a7a" stroke-width="2.90" stroke-linecap="round" fill="none"/>
<path d="M284.1 335.5L278.4 350.1M284.1 335.5L274.6 322.6M284.1 335.5L299.4 334.2M278.4 350.1L263.2 352.1M278.4 350.1L287.7 363.0M263.2 352.1L253.6 339.6M263.2 352.1L257.7 366.9M253.6 339.6L259.2 324.7M259.2 324.7L274.6 322.6M274.6 322.6L280.6 308.0M287.7 363.0L281.9 377.4M287.7 363.0L303.0 361.8M281.9 377.4L267.0 379.3M281.9 377.4L290.8 390.2M267.0 379.3L257.7 366.9M267.0 379.3L261.2 393.9M290.8 390.2L284.7 404.4M290.8 390.2L305.6 388.8M284.7 404.4L270.0 406.2M284.7 404.4L292.8 416.9M270.0 406.2L261.2 393.9M305.4 319.9L299.4 334.2M305.4 319.9L296.2 306.7M305.4 319.9L320.7 318.9M299.4 334.2L309.0 347.4M280.6 308.0L296.2 306.7M296.2 306.7L302.8 292.5M309.0 347.4L303.0 361.8M309.0 347.4L324.3 346.4M303.0 361.8L313.0 374.5M313.0 374.5L305.6 388.8M313.0 374.5L328.3 371.3M305.6 388.8L314.0 401.5M314.0 401.5L307.4 415.4M314.0 401.5L328.8 399.7M307.4 415.4L292.8 416.9M307.4 415.4L314.9 427.7M327.3 305.0L320.7 318.9M327.3 305.0L318.5 291.7M327.3 305.0L342.9 304.5M320.7 318.9L329.6 331.9M302.8 292.5L318.5 291.7M318.5 291.7L325.8 278.0M329.6 331.9L324.3 346.4M329.6 331.9L345.0 332.0M324.3 346.4L335.9 357.6M335.9 357.6L328.3 371.3M328.3 371.3L335.1 385.5M335.1 385.5L328.8 399.7M335.1 385.5L352.2 386.7M328.8 399.7L336.5 412.6M336.5 412.6L329.4 426.2M336.5 412.6L351.1 411.0M329.4 426.2L314.9 427.7M329.4 426.2L336.3 438.0M350.0 290.9L342.9 304.5M350.0 290.9L341.7 277.7M350.0 290.9L365.8 290.6M342.9 304.5L351.6 318.1M325.8 278.0L341.7 277.7M351.6 318.1L345.0 332.0M351.6 318.1L367.2 317.4M345.0 332.0L349.9 346.4M349.9 346.4L367.2 345.8M360.1 375.3L352.2 386.7M360.1 375.3L371.9 371.1M352.2 386.7L357.9 397.2M357.9 397.2L351.1 411.0M357.9 397.2L372.5 395.4M351.1 411.0L358.3 422.7M358.3 422.7L350.7 436.1M358.3 422.7L372.8 420.4M350.7 436.1L336.3 438.0M374.1 303.5L367.2 317.4M374.1 303.5L365.8 290.6M374.1 303.5L389.8 302.8M367.2 317.4L375.0 330.9M375.0 330.9L367.2 345.8M375.0 330.9L391.0 328.5M367.2 345.8L376.9 355.6M376.9 355.6L371.9 371.1M376.9 355.6L392.1 354.1M371.9 371.1L379.3 381.6M379.3 381.6L372.5 395.4M379.3 381.6L394.0 379.4M372.5 395.4L380.1 406.8M380.1 406.8L372.8 420.4M380.1 406.8L394.7 404.0M398.0 315.1L391.0 328.5M398.0 315.1L389.8 302.8M398.0 315.1L413.6 313.5M391.0 328.5L399.3 340.5M399.3 340.5L392.1 354.1M399.3 340.5L414.5 338.3M392.1 354.1L400.8 365.7M400.8 365.7L394.0 379.4M400.8 365.7L415.7 362.9M394.0 379.4L401.8 390.3M401.8 390.3L394.7 404.0M401.8 390.3L416.5 386.9M421.7 324.9L414.5 338.3M421.7 324.9L413.6 313.5M414.5 338.3L422.7 349.2M422.7 349.2L415.7 362.9M415.7 362.9L423.6 373.2M423.6 373.2L416.5 386.9M335.9 357.6L349.9 346.4" stroke="#232323" stroke-width="2.05" stroke-linecap="round" fill="none"/>
<path d="M247.8 340.7L240.7 342.1M255.5 320.0L251.0 314.3M252.0 367.9L245.0 369.2M267.5 411.6L264.6 418.2M255.6 394.9L248.8 396.0M277.1 303.2L272.8 297.2M290.2 422.1L287.0 428.5M299.4 287.5L295.3 281.5M312.1 432.8L308.7 439.1M322.6 273.0L318.8 266.9M344.7 272.7L348.4 266.6M353.1 440.3L355.9 445.4M333.3 443.0L329.5 449.2M368.8 285.6L372.4 279.5M375.3 424.5L378.4 429.4M392.7 297.8L396.3 291.7M397.4 407.9L400.6 412.7M427.5 323.9L434.6 322.6M416.4 308.6L420.0 302.4M428.4 347.9L435.4 346.4M429.2 371.6L436.1 369.7M419.3 390.5L422.7 395.0" stroke="#b9b9b9" stroke-width="1.9" stroke-linecap="butt" fill="none"/>
<path d="M253.6 339.6L247.8 340.7M259.2 324.7L255.5 320.0M257.7 366.9L252.0 367.9M270.0 406.2L267.5 411.6M261.2 393.9L255.6 394.9M280.6 308.0L277.1 303.2M292.8 416.9L290.2 422.1M302.8 292.5L299.4 287.5M314.9 427.7L312.1 432.8M325.8 278.0L322.6 273.0M341.7 277.7L344.7 272.7M350.7 436.1L353.1 440.3M336.3 438.0L333.3 443.0M365.8 290.6L368.8 285.6M372.8 420.4L375.3 424.5M389.8 302.8L392.7 297.8M394.7 404.0L397.4 407.9M421.7 324.9L427.5 323.9M413.6 313.5L416.4 308.6M422.7 349.2L428.4 347.9M423.6 373.2L429.2 371.6M416.5 386.9L419.3 390.5" stroke="#232323" stroke-width="2.4" stroke-linecap="round" fill="none"/>
<path d="M497.3 334.3L488.8 347.4M497.3 334.3L489.1 321.2M497.3 334.3L514.0 334.3M488.8 347.4L472.1 347.4M488.8 347.4L496.1 360.5M472.1 347.4L463.8 334.2M472.1 347.4L463.6 360.5M463.8 334.2L472.4 321.2M472.4 321.2L489.1 321.2M489.1 321.2L497.6 308.3M496.1 360.5L488.5 373.8M496.1 360.5L512.2 360.8M488.5 373.8L471.8 373.8M488.5 373.8L496.7 387.1M471.8 373.8L463.6 360.5M471.8 373.8L463.4 387.2M496.7 387.1L488.3 400.5M496.7 387.1L513.3 387.6M488.3 400.5L471.7 400.5M488.3 400.5L496.6 414.0M471.7 400.5L463.4 387.2M523.3 321.6L514.0 334.3M523.3 321.6L514.3 308.4M523.3 321.6L540.1 324.6M514.0 334.3L520.8 347.9M497.6 308.3L514.3 308.4M514.3 308.4L522.8 295.6M520.8 347.9L512.2 360.8M520.8 347.9L536.5 352.3M512.2 360.8L520.3 373.9M520.3 373.9L513.3 387.6M520.3 373.9L536.3 370.8M513.3 387.6L522.2 400.6M522.2 400.6L513.1 414.0M522.2 400.6L539.0 398.5M513.1 414.0L496.6 414.0M513.1 414.0L521.3 427.6M547.0 310.0L540.1 324.6M547.0 310.0L539.3 295.8M547.0 310.0L564.0 310.3M540.1 324.6L546.5 339.9M522.8 295.6L539.3 295.8M539.3 295.8L547.8 283.1M546.5 339.9L536.5 352.3M546.5 339.9L563.5 340.1M536.3 370.8L546.0 383.5M546.0 383.5L539.0 398.5M546.0 383.5L562.9 383.7M539.0 398.5L545.8 413.2M545.8 413.2L537.7 427.7M545.8 413.2L562.6 413.4M537.7 427.7L521.3 427.6M537.7 427.7L545.9 441.3M572.2 296.2L564.0 310.3M572.2 296.2L564.3 283.3M572.2 296.2L588.5 296.5M564.0 310.3L570.3 324.9M547.8 283.1L564.3 283.3M570.3 324.9L563.5 340.1M570.3 324.9L587.1 322.4M563.5 340.1L573.1 352.7M573.1 352.7L588.7 348.7M572.8 371.1L562.9 383.7M572.8 371.1L588.5 374.5M562.9 383.7L569.6 398.8M569.6 398.8L562.6 413.4M569.6 398.8L586.1 401.2M562.6 413.4L570.4 427.9M570.4 427.9L562.2 441.4M570.4 427.9L586.6 428.1M562.2 441.4L545.9 441.3M596.4 309.4L587.1 322.4M596.4 309.4L588.5 296.5M596.4 309.4L612.6 309.7M587.1 322.4L595.8 335.2M595.8 335.2L588.7 348.7M595.8 335.2L612.1 335.6M588.7 348.7L596.8 361.6M596.8 361.6L588.5 374.5M596.8 361.6L612.5 361.8M588.5 374.5L595.1 388.3M595.1 388.3L586.1 401.2M595.1 388.3L611.3 388.2M586.1 401.2L594.8 414.7M594.8 414.7L586.6 428.1M594.8 414.7L611.0 415.0M620.4 322.8L612.1 335.6M620.4 322.8L612.6 309.7M620.4 322.8L636.5 323.2M612.1 335.6L619.9 348.8M619.9 348.8L612.5 361.8M619.9 348.8L636.0 349.1M612.5 361.8L619.5 375.1M619.5 375.1L611.3 388.2M619.5 375.1L635.6 375.4M611.3 388.2L619.2 401.7M619.2 401.7L611.0 415.0M619.2 401.7L635.2 402.0M644.3 336.3L636.0 349.1M644.3 336.3L636.5 323.2M636.0 349.1L643.8 362.4M643.8 362.4L635.6 375.4M635.6 375.4L643.4 388.9M643.4 388.9L635.2 402.0M573.1 352.7L572.8 371.1M536.5 352.3L536.3 370.8" stroke="#7a7a7a" stroke-width="2.90" stroke-linecap="round" fill="none"/>
<path d="M497.3 334.3L488.8 347.4M497.3 334.3L489.1 321.2M497.3 334.3L514.0 334.3M488.8 347.4L472.1 347.4M488.8 347.4L496.1 360.5M472.1 347.4L463.8 334.2M472.1 347.4L463.6 360.5M463.8 334.2L472.4 321.2M472.4 321.2L489.1 321.2M489.1 321.2L497.6 308.3M496.1 360.5L488.5 373.8M496.1 360.5L512.2 360.8M488.5 373.8L471.8 373.8M488.5 373.8L496.7 387.1M471.8 373.8L463.6 360.5M471.8 373.8L463.4 387.2M496.7 387.1L488.3 400.5M496.7 387.1L513.3 387.6M488.3 400.5L471.7 400.5M488.3 400.5L496.6 414.0M471.7 400.5L463.4 387.2M523.3 321.6L514.0 334.3M523.3 321.6L514.3 308.4M523.3 321.6L540.1 324.6M514.0 334.3L520.8 347.9M497.6 308.3L514.3 308.4M514.3 308.4L522.8 295.6M520.8 347.9L512.2 360.8M520.8 347.9L536.5 352.3M512.2 360.8L520.3 373.9M520.3 373.9L513.3 387.6M520.3 373.9L536.3 370.8M513.3 387.6L522.2 400.6M522.2 400.6L513.1 414.0M522.2 400.6L539.0 398.5M513.1 414.0L496.6 414.0M513.1 414.0L521.3 427.6M547.0 310.0L540.1 324.6M547.0 310.0L539.3 295.8M547.0 310.0L564.0 310.3M540.1 324.6L546.5 339.9M522.8 295.6L539.3 295.8M539.3 295.8L547.8 283.1M546.5 339.9L536.5 352.3M546.5 339.9L563.5 340.1M536.3 370.8L546.0 383.5M546.0 383.5L539.0 398.5M546.0 383.5L562.9 383.7M539.0 398.5L545.8 413.2M545.8 413.2L537.7 427.7M545.8 413.2L562.6 413.4M537.7 427.7L521.3 427.6M537.7 427.7L545.9 441.3M572.2 296.2L564.0 310.3M572.2 296.2L564.3 283.3M572.2 296.2L588.5 296.5M564.0 310.3L570.3 324.9M547.8 283.1L564.3 283.3M570.3 324.9L563.5 340.1M570.3 324.9L587.1 322.4M563.5 340.1L573.1 352.7M573.1 352.7L588.7 348.7M572.8 371.1L562.9 383.7M572.8 371.1L588.5 374.5M562.9 383.7L569.6 398.8M569.6 398.8L562.6 413.4M569.6 398.8L586.1 401.2M562.6 413.4L570.4 427.9M570.4 427.9L562.2 441.4M570.4 427.9L586.6 428.1M562.2 441.4L545.9 441.3M596.4 309.4L587.1 322.4M596.4 309.4L588.5 296.5M596.4 309.4L612.6 309.7M587.1 322.4L595.8 335.2M595.8 335.2L588.7 348.7M595.8 335.2L612.1 335.6M588.7 348.7L596.8 361.6M596.8 361.6L588.5 374.5M596.8 361.6L612.5 361.8M588.5 374.5L595.1 388.3M595.1 388.3L586.1 401.2M595.1 388.3L611.3 388.2M586.1 401.2L594.8 414.7M594.8 414.7L586.6 428.1M594.8 414.7L611.0 415.0M620.4 322.8L612.1 335.6M620.4 322.8L612.6 309.7M620.4 322.8L636.5 323.2M612.1 335.6L619.9 348.8M619.9 348.8L612.5 361.8M619.9 348.8L636.0 349.1M612.5 361.8L619.5 375.1M619.5 375.1L611.3 388.2M619.5 375.1L635.6 375.4M611.3 388.2L619.2 401.7M619.2 401.7L611.0 415.0M619.2 401.7L635.2 402.0M644.3 336.3L636.0 349.1M644.3 336.3L636.5 323.2M636.0 349.1L643.8 362.4M643.8 362.4L635.6 375.4M635.6 375.4L643.4 388.9M643.4 388.9L635.2 402.0M573.1 352.7L572.8 371.1M536.5 352.3L536.3 370.8" stroke="#232323" stroke-width="2.05" stroke-linecap="round" fill="none"/>
<path d="M457.5 334.3L449.7 334.3M469.3 316.3L465.5 310.3M457.2 360.6L449.5 360.6M468.5 405.6L464.6 411.9M457.1 387.2L449.3 387.2M494.6 303.4L490.8 297.5M493.4 419.1L489.6 425.4M519.7 290.8L516.0 284.8M518.2 432.7L514.4 439.0M544.8 278.3L541.1 272.4M567.5 278.6L571.4 272.8M565.3 446.6L569.0 453.0M542.8 446.5L539.0 452.8M591.7 291.7L595.6 285.9M589.7 433.3L593.4 439.6M615.8 305.0L619.7 299.1M614.0 420.1L617.6 426.4M650.3 336.5L657.7 336.6M639.7 318.4L643.5 312.5M649.8 362.6L657.2 362.8M649.4 389.0L656.8 389.2M638.2 407.1L641.8 413.4" stroke="#b9b9b9" stroke-width="1.9" stroke-linecap="butt" fill="none"/>
<path d="M463.8 334.2L457.5 334.3M472.4 321.2L469.3 316.3M463.6 360.5L457.2 360.6M471.7 400.5L468.5 405.6M463.4 387.2L457.1 387.2M497.6 308.3L494.6 303.4M496.6 414.0L493.4 419.1M522.8 295.6L519.7 290.8M521.3 427.6L518.2 432.7M547.8 283.1L544.8 278.3M564.3 283.3L567.5 278.6M562.2 441.4L565.3 446.6M545.9 441.3L542.8 446.5M588.5 296.5L591.7 291.7M586.6 428.1L589.7 433.3M612.6 309.7L615.8 305.0M611.0 415.0L614.0 420.1M644.3 336.3L650.3 336.5M636.5 323.2L639.7 318.4M643.8 362.4L649.8 362.6M643.4 388.9L649.4 389.0M635.2 402.0L638.2 407.1" stroke="#232323" stroke-width="2.4" stroke-linecap="round" fill="none"/>
<text x="152.8" y="274.0" font-family='"Liberation Serif", serif' font-size="22" font-weight="bold" fill="#111" text-anchor="start" textLength="58">6Li-G</text>
<text x="378.8" y="273.7" font-family='"Liberation Serif", serif' font-size="22" font-weight="bold" fill="#111" text-anchor="start" >6Li-SV</text>
<text x="598.8" y="273.8" font-family='"Liberation Serif", serif' font-size="22" font-weight="bold" fill="#111" text-anchor="start" textLength="72.6">6Li-DV</text>
<circle cx="92.8" cy="341.4" r="4.0" fill="url(#li)"/>
<circle cx="133.6" cy="340.6" r="4.0" fill="url(#li)"/>
<circle cx="79.5" cy="371.6" r="4.0" fill="url(#li)"/>
<circle cx="148.4" cy="369.9" r="4.0" fill="url(#li)"/>
<circle cx="113.8" cy="357.2" r="4.0" fill="url(#li)"/>
<circle cx="114.0" cy="368.6" r="4.0" fill="url(#li)"/>
<path d="M113.9 358V368" stroke="#7fd07f" stroke-width="0.8"/>
<text x="107.4" y="350.7" font-family='"Liberation Serif", serif' font-size="15" font-weight="bold" fill="#127a12" text-anchor="start" >Li</text>
<path d="M344.7 375.8L359.4 374.7L370.6 360.2" stroke="#8fbf8f" stroke-width="0.7" fill="none"/>
<circle cx="299.8" cy="324.7" r="4.0" fill="url(#li)"/>
<circle cx="336.8" cy="342.0" r="4.0" fill="url(#li)"/>
<circle cx="311.1" cy="362.7" r="4.0" fill="url(#li)"/>
<circle cx="344.5" cy="376.0" r="4.0" fill="url(#li)"/>
<circle cx="370.6" cy="360.2" r="4.0" fill="url(#li)"/>
<circle cx="307.3" cy="405.2" r="4.0" fill="url(#li)"/>
<text x="338.2" y="368.3" font-family='"Liberation Serif", serif' font-size="15" font-weight="bold" fill="#127a12" text-anchor="start" >Li</text>
<circle cx="554.0" cy="320.2" r="3.9" fill="url(#li)"/>
<circle cx="534.9" cy="356.2" r="3.9" fill="url(#li)"/>
<circle cx="571.6" cy="356.2" r="3.9" fill="url(#li)"/>
<circle cx="506.9" cy="381.7" r="3.9" fill="url(#li)"/>
<circle cx="553.0" cy="385.3" r="3.9" fill="url(#li)"/>
<circle cx="598.9" cy="382.2" r="3.9" fill="url(#li)"/>
<text x="599.0" y="376.6" font-family='"Liberation Serif", serif' font-size="15" font-weight="bold" fill="#127a12" text-anchor="start" >Li</text>
<path d="M25 495.1 L55.4 496.9 L79.6 498.1 L97 498.7 L97.7 495.2 L122 495.2 L122.7 498.7 L146 498.1 L170 496.7 L199.5 493.8 L170 499.3 L146 502.4 L128 504 L112.5 504.5 L97 504 L79.6 502.6 L55.4 499.6 Z" fill="#2a2a2a" stroke="#2a2a2a" stroke-width="0.6" stroke-linejoin="round"/>
<path d="M25 495h5M196 494l4-0.5M60 496.6h4M83 497.6h4M100 496.6h12M136 497.4h4M160 496.4h4" stroke="#c8c8c8" stroke-width="1.1" fill="none"/>
<path d="M112.9 462V478" stroke="#9fd89f" stroke-width="0.8"/>
<circle cx="112.9" cy="458.8" r="3.8" fill="url(#li)"/>
<circle cx="81.4" cy="477.2" r="3.8" fill="url(#li)"/>
<circle cx="94.1" cy="478.7" r="3.8" fill="url(#li)"/>
<circle cx="112.9" cy="481.5" r="3.8" fill="url(#li)"/>
<circle cx="131.6" cy="478.7" r="3.8" fill="url(#li)"/>
<circle cx="144.6" cy="476.9" r="3.8" fill="url(#li)"/>
<text x="119.3" y="471.8" font-family='"Liberation Serif", serif' font-size="15" font-weight="bold" fill="#127a12" text-anchor="start" >Li</text>
<path d="M288.5 483.9L280.6 483.8M288.5 483.9L282.3 482.8M288.5 483.9L302.6 484.2M280.6 483.8L266.4 482.4M280.6 483.8L286.8 484.9M266.4 482.4L260.3 481.3M266.4 482.4L258.2 482.4M260.3 481.3L268.3 481.4M268.3 481.4L282.3 482.8M282.3 482.8L290.1 483.1M286.8 484.9L278.8 484.9M286.8 484.9L301.4 486.3M278.8 484.9L264.4 483.6M278.8 484.9L285.2 486.1M264.4 483.6L258.2 482.4M264.4 483.6L256.2 483.6M285.2 486.1L277.1 486.0M285.2 486.1L299.7 488.6M277.1 486.0L262.5 484.8M277.1 486.0L283.6 487.3M262.5 484.8L256.2 483.6M310.3 482.7L302.6 484.2M310.3 482.7L304.0 482.3M310.3 482.7L324.2 481.7M302.6 484.2L309.4 485.5M290.1 483.1L304.0 482.3M304.0 482.3L311.6 480.3M309.4 485.5L301.4 486.3M309.4 485.5L323.7 486.0M301.4 486.3L308.9 488.6M308.9 488.6L299.7 488.6M308.9 488.6L324.0 490.4M299.7 488.6L306.3 491.8M306.3 491.8L298.3 491.1M306.3 491.8L321.1 495.7M298.3 491.1L283.6 487.3M298.3 491.1L305.0 495.4M331.8 479.8L324.2 481.7M331.8 479.8L325.5 478.0M331.8 479.8L345.8 479.3M324.2 481.7L330.6 484.0M311.6 480.3L325.5 478.0M325.5 478.0L332.9 476.1M330.6 484.0L323.7 486.0M330.6 484.0L344.7 484.2M323.7 486.0L333.1 488.8M333.1 488.8L324.0 490.4M324.0 490.4L328.8 494.0M328.8 494.0L321.1 495.7M328.8 494.0L343.3 495.5M321.1 495.7L327.7 499.9M327.7 499.9L319.7 501.4M327.7 499.9L342.3 502.1M319.7 501.4L305.0 495.4M319.7 501.4L326.6 506.3M353.1 476.0L345.8 479.3M353.1 476.0L346.6 475.0M353.1 476.0L366.9 473.9M345.8 479.3L352.2 481.0M332.9 476.1L346.6 475.0M352.2 481.0L344.7 484.2M352.2 481.0L366.4 479.7M344.7 484.2L348.6 487.1M348.6 487.1L363.2 486.3M350.8 492.7L343.3 495.5M350.8 492.7L365.2 493.2M343.3 495.5L350.0 499.5M350.0 499.5L342.3 502.1M350.0 499.5L364.6 501.1M342.3 502.1L349.3 507.0M349.3 507.0L341.5 509.3M349.3 507.0L364.1 509.8M341.5 509.3L326.6 506.3M373.6 475.8L366.4 479.7M373.6 475.8L366.9 473.9M373.6 475.8L387.5 474.0M366.4 479.7L372.4 482.6M372.4 482.6L363.2 486.3M372.4 482.6L387.2 481.3M363.2 486.3L372.0 489.4M372.0 489.4L365.2 493.2M372.0 489.4L386.5 489.5M365.2 493.2L372.2 497.5M372.2 497.5L364.6 501.1M372.2 497.5L386.7 498.6M364.6 501.1L371.7 506.4M371.7 506.4L364.1 509.8M371.7 506.4L386.4 508.5M394.4 476.9L387.2 481.3M394.4 476.9L387.5 474.0M394.4 476.9L408.4 475.6M387.2 481.3L394.2 485.1M394.2 485.1L386.5 489.5M394.2 485.1L408.4 484.6M386.5 489.5L394.0 494.2M394.0 494.2L386.7 498.6M394.0 494.2L408.4 494.7M386.7 498.6L393.8 504.2M393.8 504.2L386.4 508.5M393.8 504.2L408.4 505.8M415.5 479.5L408.4 484.6M415.5 479.5L408.4 475.6M408.4 484.6L415.5 489.5M415.5 489.5L408.4 494.7M408.4 494.7L415.6 500.6M415.6 500.6L408.4 505.8M333.1 488.8L348.6 487.1" stroke="#7a7a7a" stroke-width="2.30" stroke-linecap="round" fill="none"/>
<path d="M288.5 483.9L280.6 483.8M288.5 483.9L282.3 482.8M288.5 483.9L302.6 484.2M280.6 483.8L266.4 482.4M280.6 483.8L286.8 484.9M266.4 482.4L260.3 481.3M266.4 482.4L258.2 482.4M260.3 481.3L268.3 481.4M268.3 481.4L282.3 482.8M282.3 482.8L290.1 483.1M286.8 484.9L278.8 484.9M286.8 484.9L301.4 486.3M278.8 484.9L264.4 483.6M278.8 484.9L285.2 486.1M264.4 483.6L258.2 482.4M264.4 483.6L256.2 483.6M285.2 486.1L277.1 486.0M285.2 486.1L299.7 488.6M277.1 486.0L262.5 484.8M277.1 486.0L283.6 487.3M262.5 484.8L256.2 483.6M310.3 482.7L302.6 484.2M310.3 482.7L304.0 482.3M310.3 482.7L324.2 481.7M302.6 484.2L309.4 485.5M290.1 483.1L304.0 482.3M304.0 482.3L311.6 480.3M309.4 485.5L301.4 486.3M309.4 485.5L323.7 486.0M301.4 486.3L308.9 488.6M308.9 488.6L299.7 488.6M308.9 488.6L324.0 490.4M299.7 488.6L306.3 491.8M306.3 491.8L298.3 491.1M306.3 491.8L321.1 495.7M298.3 491.1L283.6 487.3M298.3 491.1L305.0 495.4M331.8 479.8L324.2 481.7M331.8 479.8L325.5 478.0M331.8 479.8L345.8 479.3M324.2 481.7L330.6 484.0M311.6 480.3L325.5 478.0M325.5 478.0L332.9 476.1M330.6 484.0L323.7 486.0M330.6 484.0L344.7 484.2M323.7 486.0L333.1 488.8M333.1 488.8L324.0 490.4M324.0 490.4L328.8 494.0M328.8 494.0L321.1 495.7M328.8 494.0L343.3 495.5M321.1 495.7L327.7 499.9M327.7 499.9L319.7 501.4M327.7 499.9L342.3 502.1M319.7 501.4L305.0 495.4M319.7 501.4L326.6 506.3M353.1 476.0L345.8 479.3M353.1 476.0L346.6 475.0M353.1 476.0L366.9 473.9M345.8 479.3L352.2 481.0M332.9 476.1L346.6 475.0M352.2 481.0L344.7 484.2M352.2 481.0L366.4 479.7M344.7 484.2L348.6 487.1M348.6 487.1L363.2 486.3M350.8 492.7L343.3 495.5M350.8 492.7L365.2 493.2M343.3 495.5L350.0 499.5M350.0 499.5L342.3 502.1M350.0 499.5L364.6 501.1M342.3 502.1L349.3 507.0M349.3 507.0L341.5 509.3M349.3 507.0L364.1 509.8M341.5 509.3L326.6 506.3M373.6 475.8L366.4 479.7M373.6 475.8L366.9 473.9M373.6 475.8L387.5 474.0M366.4 479.7L372.4 482.6M372.4 482.6L363.2 486.3M372.4 482.6L387.2 481.3M363.2 486.3L372.0 489.4M372.0 489.4L365.2 493.2M372.0 489.4L386.5 489.5M365.2 493.2L372.2 497.5M372.2 497.5L364.6 501.1M372.2 497.5L386.7 498.6M364.6 501.1L371.7 506.4M371.7 506.4L364.1 509.8M371.7 506.4L386.4 508.5M394.4 476.9L387.2 481.3M394.4 476.9L387.5 474.0M394.4 476.9L408.4 475.6M387.2 481.3L394.2 485.1M394.2 485.1L386.5 489.5M394.2 485.1L408.4 484.6M386.5 489.5L394.0 494.2M394.0 494.2L386.7 498.6M394.0 494.2L408.4 494.7M386.7 498.6L393.8 504.2M393.8 504.2L386.4 508.5M393.8 504.2L408.4 505.8M415.5 479.5L408.4 484.6M415.5 479.5L408.4 475.6M408.4 484.6L415.5 489.5M415.5 489.5L408.4 494.7M408.4 494.7L415.6 500.6M415.6 500.6L408.4 505.8M333.1 488.8L348.6 487.1" stroke="#232323" stroke-width="1.45" stroke-linecap="round" fill="none"/>
<path d="M254.9 480.7L248.4 480.1M266.0 481.0L263.2 480.5M252.8 481.9L246.2 481.3M259.4 484.9L255.6 484.9M250.8 483.1L244.1 482.5M287.8 482.6L285.0 482.1M280.5 487.3L276.7 487.3M309.3 480.4L306.4 480.6M301.9 494.9L298.2 494.2M330.5 475.6L327.6 475.0M349.4 473.8L352.7 472.3M344.1 511.5L347.4 514.2M323.6 506.8L319.9 507.4M369.6 472.5L372.9 470.7M366.8 512.1L370.1 515.0M390.2 472.4L393.5 470.4M389.1 511.0L392.5 514.1M420.8 479.5L427.3 479.5M411.0 473.7L414.3 471.4M421.0 489.5L427.6 489.5M421.1 500.6L427.8 500.6M411.2 508.4L414.6 511.6" stroke="#b9b9b9" stroke-width="1.3" stroke-linecap="butt" fill="none"/>
<path d="M260.3 481.3L254.9 480.7M268.3 481.4L266.0 481.0M258.2 482.4L252.8 481.9M262.5 484.8L259.4 484.9M256.2 483.6L250.8 483.1M290.1 483.1L287.8 482.6M283.6 487.3L280.5 487.3M311.6 480.3L309.3 480.4M305.0 495.4L301.9 494.9M332.9 476.1L330.5 475.6M346.6 475.0L349.4 473.8M341.5 509.3L344.1 511.5M326.6 506.3L323.6 506.8M366.9 473.9L369.6 472.5M364.1 509.8L366.8 512.1M387.5 474.0L390.2 472.4M386.4 508.5L389.1 511.0M415.5 479.5L420.8 479.5M408.4 475.6L411.0 473.7M415.5 489.5L421.0 489.5M415.6 500.6L421.1 500.6M408.4 505.8L411.2 508.4" stroke="#232323" stroke-width="1.8" stroke-linecap="round" fill="none"/>
<path d="M251 479.3 L300 485.4 L306 490.5 L300 489.4 L251 484.3 Z" fill="#262626"/>
<path d="M245 480h6.5M245 482h6.5M245.5 484h6" stroke="#c4c4c4" stroke-width="1.2" fill="none"/>
<path d="M275 484.6h5" stroke="#e8e8e8" stroke-width="1.2" fill="none"/>
<path d="M335.8 468.4L348 476M361 467.2L366 478M361 467.2L355 475" stroke="#7fc97f" stroke-width="0.7" fill="none"/>
<circle cx="297.6" cy="467.3" r="3.9" fill="url(#li)"/>
<circle cx="304.8" cy="464.2" r="3.9" fill="url(#li)"/>
<circle cx="331.3" cy="467.8" r="3.9" fill="url(#li)"/>
<circle cx="335.8" cy="468.5" r="3.9" fill="url(#li)"/>
<circle cx="361.0" cy="467.2" r="3.9" fill="url(#li)"/>
<text x="342.2" y="462.3" font-family='"Liberation Serif", serif' font-size="15" font-weight="bold" fill="#127a12" text-anchor="start" >Li</text>
<path d="M509.1 483.7L500.9 483.2M509.1 483.7L501.9 481.7M509.1 483.7L523.3 487.0M500.9 483.2L486.4 481.4M500.9 483.2L506.0 485.4M486.4 481.4L480.1 480.1M486.4 481.4L477.8 481.6M480.1 480.1L487.4 480.0M487.4 480.0L501.9 481.7M501.9 481.7L509.1 482.2M506.0 485.4L498.1 485.2M506.0 485.4L520.0 488.9M498.1 485.2L483.6 483.1M498.1 485.2L504.1 487.9M483.6 483.1L477.8 481.6M483.6 483.1L475.1 483.5M504.1 487.9L495.3 487.6M504.1 487.9L518.9 492.0M495.3 487.6L480.8 485.2M495.3 487.6L501.4 490.7M480.8 485.2L475.1 483.5M531.0 488.3L523.3 487.0M531.0 488.3L523.2 485.3M531.0 488.3L545.1 493.4M523.3 487.0L528.5 489.9M509.1 482.2L523.2 485.3M523.2 485.3L530.2 486.5M528.5 489.9L520.0 488.9M528.5 489.9L541.7 495.1M520.0 488.9L526.3 492.4M526.3 492.4L518.9 492.0M526.3 492.4L540.9 497.3M518.9 492.0L526.3 496.3M526.3 496.3L516.7 495.2M526.3 496.3L542.4 502.3M516.7 495.2L501.4 490.7M516.7 495.2L523.6 499.9M550.5 494.4L545.1 493.4M550.5 494.4L544.0 490.9M550.5 494.4L564.5 494.4M545.1 493.4L550.5 497.2M530.2 486.5L544.0 490.9M544.0 490.9L550.8 492.7M550.5 497.2L541.7 495.1M550.5 497.2L564.5 497.2M540.9 497.3L549.5 502.9M549.5 502.9L542.4 502.3M549.5 502.9L565.5 502.9M542.4 502.3L548.9 507.9M548.9 507.9L540.2 506.7M548.9 507.9L566.1 507.9M540.2 506.7L523.6 499.9M540.2 506.7L548.5 513.4M571.0 490.9L564.5 494.4M571.0 490.9L564.2 492.7M571.0 490.9L584.8 486.5M564.5 494.4L569.9 493.4M550.8 492.7L564.2 492.7M569.9 493.4L564.5 497.2M569.9 493.4L584.0 488.3M564.5 497.2L573.3 495.1M573.3 495.1L586.5 489.9M574.1 497.3L565.5 502.9M574.1 497.3L588.7 492.4M565.5 502.9L572.6 502.3M572.6 502.3L566.1 507.9M572.6 502.3L588.7 496.3M566.1 507.9L574.8 506.7M574.8 506.7L566.5 513.4M574.8 506.7L591.4 499.9M566.5 513.4L548.5 513.4M591.8 485.3L584.0 488.3M591.8 485.3L584.8 486.5M591.8 485.3L605.9 482.2M584.0 488.3L591.7 487.0M591.7 487.0L586.5 489.9M591.7 487.0L605.9 483.7M586.5 489.9L595.0 488.9M595.0 488.9L588.7 492.4M595.0 488.9L609.0 485.4M588.7 492.4L596.1 492.0M596.1 492.0L588.7 496.3M596.1 492.0L610.9 487.9M588.7 496.3L598.3 495.2M598.3 495.2L591.4 499.9M598.3 495.2L613.6 490.7M613.1 481.7L605.9 483.7M613.1 481.7L605.9 482.2M613.1 481.7L627.6 480.0M605.9 483.7L614.1 483.2M614.1 483.2L609.0 485.4M614.1 483.2L628.6 481.4M609.0 485.4L616.9 485.2M616.9 485.2L610.9 487.9M616.9 485.2L631.4 483.1M610.9 487.9L619.7 487.6M619.7 487.6L613.6 490.7M619.7 487.6L634.2 485.2M634.9 480.1L628.6 481.4M634.9 480.1L627.6 480.0M628.6 481.4L637.2 481.6M637.2 481.6L631.4 483.1M631.4 483.1L639.9 483.5M639.9 483.5L634.2 485.2M573.3 495.1L574.1 497.3M541.7 495.1L540.9 497.3" stroke="#7a7a7a" stroke-width="2.30" stroke-linecap="round" fill="none"/>
<path d="M509.1 483.7L500.9 483.2M509.1 483.7L501.9 481.7M509.1 483.7L523.3 487.0M500.9 483.2L486.4 481.4M500.9 483.2L506.0 485.4M486.4 481.4L480.1 480.1M486.4 481.4L477.8 481.6M480.1 480.1L487.4 480.0M487.4 480.0L501.9 481.7M501.9 481.7L509.1 482.2M506.0 485.4L498.1 485.2M506.0 485.4L520.0 488.9M498.1 485.2L483.6 483.1M498.1 485.2L504.1 487.9M483.6 483.1L477.8 481.6M483.6 483.1L475.1 483.5M504.1 487.9L495.3 487.6M504.1 487.9L518.9 492.0M495.3 487.6L480.8 485.2M495.3 487.6L501.4 490.7M480.8 485.2L475.1 483.5M531.0 488.3L523.3 487.0M531.0 488.3L523.2 485.3M531.0 488.3L545.1 493.4M523.3 487.0L528.5 489.9M509.1 482.2L523.2 485.3M523.2 485.3L530.2 486.5M528.5 489.9L520.0 488.9M528.5 489.9L541.7 495.1M520.0 488.9L526.3 492.4M526.3 492.4L518.9 492.0M526.3 492.4L540.9 497.3M518.9 492.0L526.3 496.3M526.3 496.3L516.7 495.2M526.3 496.3L542.4 502.3M516.7 495.2L501.4 490.7M516.7 495.2L523.6 499.9M550.5 494.4L545.1 493.4M550.5 494.4L544.0 490.9M550.5 494.4L564.5 494.4M545.1 493.4L550.5 497.2M530.2 486.5L544.0 490.9M544.0 490.9L550.8 492.7M550.5 497.2L541.7 495.1M550.5 497.2L564.5 497.2M540.9 497.3L549.5 502.9M549.5 502.9L542.4 502.3M549.5 502.9L565.5 502.9M542.4 502.3L548.9 507.9M548.9 507.9L540.2 506.7M548.9 507.9L566.1 507.9M540.2 506.7L523.6 499.9M540.2 506.7L548.5 513.4M571.0 490.9L564.5 494.4M571.0 490.9L564.2 492.7M571.0 490.9L584.8 486.5M564.5 494.4L569.9 493.4M550.8 492.7L564.2 492.7M569.9 493.4L564.5 497.2M569.9 493.4L584.0 488.3M564.5 497.2L573.3 495.1M573.3 495.1L586.5 489.9M574.1 497.3L565.5 502.9M574.1 497.3L588.7 492.4M565.5 502.9L572.6 502.3M572.6 502.3L566.1 507.9M572.6 502.3L588.7 496.3M566.1 507.9L574.8 506.7M574.8 506.7L566.5 513.4M574.8 506.7L591.4 499.9M566.5 513.4L548.5 513.4M591.8 485.3L584.0 488.3M591.8 485.3L584.8 486.5M591.8 485.3L605.9 482.2M584.0 488.3L591.7 487.0M591.7 487.0L586.5 489.9M591.7 487.0L605.9 483.7M586.5 489.9L595.0 488.9M595.0 488.9L588.7 492.4M595.0 488.9L609.0 485.4M588.7 492.4L596.1 492.0M596.1 492.0L588.7 496.3M596.1 492.0L610.9 487.9M588.7 496.3L598.3 495.2M598.3 495.2L591.4 499.9M598.3 495.2L613.6 490.7M613.1 481.7L605.9 483.7M613.1 481.7L605.9 482.2M613.1 481.7L627.6 480.0M605.9 483.7L614.1 483.2M614.1 483.2L609.0 485.4M614.1 483.2L628.6 481.4M609.0 485.4L616.9 485.2M616.9 485.2L610.9 487.9M616.9 485.2L631.4 483.1M610.9 487.9L619.7 487.6M619.7 487.6L613.6 490.7M619.7 487.6L634.2 485.2M634.9 480.1L628.6 481.4M634.9 480.1L627.6 480.0M628.6 481.4L637.2 481.6M637.2 481.6L631.4 483.1M631.4 483.1L639.9 483.5M639.9 483.5L634.2 485.2M573.3 495.1L574.1 497.3M541.7 495.1L540.9 497.3" stroke="#232323" stroke-width="1.45" stroke-linecap="round" fill="none"/>
<path d="M474.5 480.0L467.6 479.9M484.6 479.6L481.3 479.1M472.3 481.5L465.6 481.3M477.6 485.4L473.7 485.6M469.7 483.3L463.2 483.1M506.4 481.6L503.1 480.8M498.0 490.5L493.9 490.4M527.6 485.6L524.3 484.5M520.2 499.5L515.9 499.0M548.2 491.6L545.1 490.2M566.8 491.6L569.9 490.2M570.1 512.8L574.4 512.1M544.9 512.8L540.6 512.1M587.4 485.6L590.7 484.5M594.8 499.5L599.1 499.0M608.6 481.6L611.9 480.8M617.0 490.5L621.1 490.4M640.5 480.0L647.4 479.9M630.4 479.6L633.7 479.1M642.7 481.5L649.4 481.3M645.3 483.3L651.8 483.1M637.4 485.4L641.3 485.6" stroke="#b9b9b9" stroke-width="1.3" stroke-linecap="butt" fill="none"/>
<path d="M480.1 480.1L474.5 480.0M487.4 480.0L484.6 479.6M477.8 481.6L472.3 481.5M480.8 485.2L477.6 485.4M475.1 483.5L469.7 483.3M509.1 482.2L506.4 481.6M501.4 490.7L498.0 490.5M530.2 486.5L527.6 485.6M523.6 499.9L520.2 499.5M550.8 492.7L548.2 491.6M564.2 492.7L566.8 491.6M566.5 513.4L570.1 512.8M548.5 513.4L544.9 512.8M584.8 486.5L587.4 485.6M591.4 499.9L594.8 499.5M605.9 482.2L608.6 481.6M613.6 490.7L617.0 490.5M634.9 480.1L640.5 480.0M627.6 480.0L630.4 479.6M637.2 481.6L642.7 481.5M639.9 483.5L645.3 483.3M634.2 485.2L637.4 485.4" stroke="#232323" stroke-width="1.8" stroke-linecap="round" fill="none"/>
<circle cx="516.4" cy="466.2" r="3.5" fill="url(#li)"/>
<circle cx="541.2" cy="467.7" r="3.5" fill="url(#li)"/>
<circle cx="557.9" cy="473.1" r="3.5" fill="url(#li)"/>
<circle cx="557.9" cy="479.2" r="3.5" fill="url(#li)"/>
<circle cx="573.9" cy="467.4" r="3.5" fill="url(#li)"/>
<circle cx="599.0" cy="464.7" r="3.5" fill="url(#li)"/>
<text x="551.0" y="466.2" font-family='"Liberation Serif", serif' font-size="15" font-weight="bold" fill="#127a12" text-anchor="start" >Li</text>
<text x="348.5" y="542.9" font-family='"Liberation Serif", serif' font-size="18.5" font-weight="normal" fill="#111" text-anchor="middle" >(<tspan font-weight="bold">b</tspan>)</text>
<path d="M70 632.2H292" stroke="#000" stroke-width="1" stroke-dasharray="1.2 1.6" fill="none"/>
<rect x="69.7" y="567.5" width="236.90000000000003" height="190.70000000000005" fill="none" stroke="#000" stroke-width="0.9"/>
<path d="M69.7 567.5V758.2H306.6" fill="none" stroke="#000" stroke-width="1.15"/>
<text x="63.3" y="570.6" font-family='"Liberation Sans", sans-serif' font-size="11.5" font-weight="bold" fill="#111" text-anchor="end" letter-spacing="0.2">0.0</text>
<text x="63.3" y="599.9" font-family='"Liberation Sans", sans-serif' font-size="11.5" font-weight="bold" fill="#111" text-anchor="end" letter-spacing="0.2">-0.5</text>
<text x="63.3" y="629.2" font-family='"Liberation Sans", sans-serif' font-size="11.5" font-weight="bold" fill="#111" text-anchor="end" letter-spacing="0.2">-1.0</text>
<text x="63.3" y="658.5" font-family='"Liberation Sans", sans-serif' font-size="11.5" font-weight="bold" fill="#111" text-anchor="end" letter-spacing="0.2">-1.5</text>
<text x="63.3" y="687.8" font-family='"Liberation Sans", sans-serif' font-size="11.5" font-weight="bold" fill="#111" text-anchor="end" letter-spacing="0.2">-2.0</text>
<text x="63.3" y="717.1" font-family='"Liberation Sans", sans-serif' font-size="11.5" font-weight="bold" fill="#111" text-anchor="end" letter-spacing="0.2">-2.5</text>
<text x="63.3" y="746.4" font-family='"Liberation Sans", sans-serif' font-size="11.5" font-weight="bold" fill="#111" text-anchor="end" letter-spacing="0.2">-3.0</text>
<text x="89.3" y="773" font-family='"Liberation Sans", sans-serif' font-size="11.5" font-weight="bold" fill="#111" text-anchor="middle" >1Li</text>
<text x="128.8" y="773" font-family='"Liberation Sans", sans-serif' font-size="11.5" font-weight="bold" fill="#111" text-anchor="middle" >2Li</text>
<text x="168.2" y="773" font-family='"Liberation Sans", sans-serif' font-size="11.5" font-weight="bold" fill="#111" text-anchor="middle" >3Li</text>
<text x="207.7" y="773" font-family='"Liberation Sans", sans-serif' font-size="11.5" font-weight="bold" fill="#111" text-anchor="middle" >4Li</text>
<text x="247.1" y="773" font-family='"Liberation Sans", sans-serif' font-size="11.5" font-weight="bold" fill="#111" text-anchor="middle" >5Li</text>
<text x="286.6" y="773" font-family='"Liberation Sans", sans-serif' font-size="11.5" font-weight="bold" fill="#111" text-anchor="middle" >6Li</text>
<path d="M65.3 567.5H69.7M65.3 596.8H69.7M65.3 626.1H69.7M65.3 655.4H69.7M65.3 684.7H69.7M65.3 714.0H69.7M65.3 743.3H69.7M67.1 582.1H69.7M67.1 611.5H69.7M67.1 640.8H69.7M67.1 670.0H69.7M67.1 699.4H69.7M67.1 728.6H69.7M67.1 758.0H69.7M89.3 758.2V762.6M128.8 758.2V762.6M168.2 758.2V762.6M207.7 758.2V762.6M247.1 758.2V762.6M286.6 758.2V762.6M109.0 758.2V760.2M148.5 758.2V760.2M187.9 758.2V760.2M227.4 758.2V760.2M266.8 758.2V760.2M306.3 758.2V760.2" stroke="#000" stroke-width="1.05" fill="none"/>
<polyline points="89.3,607.3 128.8,605.3 168.2,672.4 207.7,641.0 247.1,632.5 286.6,641.0" fill="none" stroke="#000" stroke-width="1.75" stroke-linejoin="round"/>
<circle cx="89.3" cy="607.3" r="2.9" fill="#000"/>
<circle cx="88.6" cy="606.6" r="0.8" fill="#fff" fill-opacity="0.55"/>
<circle cx="128.8" cy="605.3" r="2.9" fill="#000"/>
<circle cx="128.1" cy="604.6" r="0.8" fill="#fff" fill-opacity="0.55"/>
<circle cx="168.2" cy="672.4" r="2.9" fill="#000"/>
<circle cx="167.5" cy="671.7" r="0.8" fill="#fff" fill-opacity="0.55"/>
<circle cx="207.7" cy="641.0" r="2.9" fill="#000"/>
<circle cx="207.0" cy="640.3" r="0.8" fill="#fff" fill-opacity="0.55"/>
<circle cx="247.1" cy="632.5" r="2.9" fill="#000"/>
<circle cx="246.4" cy="631.8" r="0.8" fill="#fff" fill-opacity="0.55"/>
<circle cx="286.6" cy="641.0" r="2.9" fill="#000"/>
<circle cx="285.9" cy="640.3" r="0.8" fill="#fff" fill-opacity="0.55"/>
<polyline points="89.3,739.2 128.8,688.8 168.2,615.6 207.7,691.1 247.1,623.2 286.6,624.0" fill="none" stroke="#808000" stroke-width="1.75" stroke-linejoin="round"/>
<circle cx="89.3" cy="739.2" r="3.2" fill="#808000"/>
<circle cx="88.6" cy="738.5" r="0.8" fill="#fff" fill-opacity="0.55"/>
<circle cx="128.8" cy="688.8" r="3.2" fill="#808000"/>
<circle cx="128.1" cy="688.1" r="0.8" fill="#fff" fill-opacity="0.55"/>
<circle cx="168.2" cy="615.6" r="3.2" fill="#808000"/>
<circle cx="167.5" cy="614.9" r="0.8" fill="#fff" fill-opacity="0.55"/>
<circle cx="207.7" cy="691.1" r="3.2" fill="#808000"/>
<circle cx="207.0" cy="690.4" r="0.8" fill="#fff" fill-opacity="0.55"/>
<circle cx="247.1" cy="623.2" r="3.2" fill="#808000"/>
<circle cx="246.4" cy="622.5" r="0.8" fill="#fff" fill-opacity="0.55"/>
<circle cx="286.6" cy="624.0" r="3.2" fill="#808000"/>
<circle cx="285.9" cy="623.3" r="0.8" fill="#fff" fill-opacity="0.55"/>
<polyline points="89.3,703.7 128.8,697.0 168.2,617.7 207.7,681.5 247.1,635.2 286.6,624.0" fill="none" stroke="#0000ff" stroke-width="1.75" stroke-linejoin="round"/>
<circle cx="89.3" cy="703.7" r="2.9" fill="#0000ff"/>
<circle cx="88.6" cy="703.0" r="0.8" fill="#fff" fill-opacity="0.55"/>
<circle cx="128.8" cy="697.0" r="2.9" fill="#0000ff"/>
<circle cx="128.1" cy="696.3" r="0.8" fill="#fff" fill-opacity="0.55"/>
<circle cx="168.2" cy="617.7" r="2.9" fill="#0000ff"/>
<circle cx="167.5" cy="617.0" r="0.8" fill="#fff" fill-opacity="0.55"/>
<circle cx="207.7" cy="681.5" r="2.9" fill="#0000ff"/>
<circle cx="207.0" cy="680.8" r="0.8" fill="#fff" fill-opacity="0.55"/>
<circle cx="247.1" cy="635.2" r="2.9" fill="#0000ff"/>
<circle cx="246.4" cy="634.5" r="0.8" fill="#fff" fill-opacity="0.55"/>
<circle cx="286.6" cy="624.0" r="2.9" fill="#0000ff"/>
<circle cx="285.9" cy="623.3" r="0.8" fill="#fff" fill-opacity="0.55"/>
<text transform="translate(34.3 661.5) rotate(-90)" font-family='"Liberation Sans", sans-serif' font-size="11.3" font-weight="bold" fill="#111" text-anchor="middle">Adsorption energy of extra Li (eV)</text>
<text x="181.2" y="791" font-family='"Liberation Sans", sans-serif' font-size="13.5" font-weight="bold" fill="#111" text-anchor="middle" textLength="126.6">Number of Li atoms</text>
<text x="82.7" y="596.2" font-family='"Liberation Serif", serif' font-size="15.8" font-weight="bold" fill="#111" text-anchor="start" >G</text>
<text x="76.0" y="695.6" font-family='"Liberation Serif", serif' font-size="15.8" font-weight="bold" fill="#0000ff" text-anchor="start" >DV</text>
<text x="76.6" y="729.6" font-family='"Liberation Serif", serif' font-size="15.8" font-weight="bold" fill="#808000" text-anchor="start" >SV</text>
<text x="168.9" y="817.9" font-family='"Liberation Serif", serif' font-size="18.5" font-weight="normal" fill="#111" text-anchor="middle" >(<tspan font-weight="bold">c</tspan>)</text>
<rect x="427.6" y="563.3" width="238.10000000000002" height="193.10000000000002" fill="none" stroke="#000" stroke-width="0.9"/>
<path d="M427.6 563.3V756.4H665.7" fill="none" stroke="#000" stroke-width="1.15"/>
<text x="421.2" y="566.4" font-family='"Liberation Sans", sans-serif' font-size="11.5" font-weight="bold" fill="#111" text-anchor="end" letter-spacing="0.2">4.0</text>
<text x="421.2" y="593.9" font-family='"Liberation Sans", sans-serif' font-size="11.5" font-weight="bold" fill="#111" text-anchor="end" letter-spacing="0.2">3.5</text>
<text x="421.2" y="621.5" font-family='"Liberation Sans", sans-serif' font-size="11.5" font-weight="bold" fill="#111" text-anchor="end" letter-spacing="0.2">3.0</text>
<text x="421.2" y="649.0" font-family='"Liberation Sans", sans-serif' font-size="11.5" font-weight="bold" fill="#111" text-anchor="end" letter-spacing="0.2">2.5</text>
<text x="421.2" y="676.6" font-family='"Liberation Sans", sans-serif' font-size="11.5" font-weight="bold" fill="#111" text-anchor="end" letter-spacing="0.2">2.0</text>
<text x="421.2" y="704.1" font-family='"Liberation Sans", sans-serif' font-size="11.5" font-weight="bold" fill="#111" text-anchor="end" letter-spacing="0.2">1.5</text>
<text x="421.2" y="731.7" font-family='"Liberation Sans", sans-serif' font-size="11.5" font-weight="bold" fill="#111" text-anchor="end" letter-spacing="0.2">1.0</text>
<text x="421.2" y="759.2" font-family='"Liberation Sans", sans-serif' font-size="11.5" font-weight="bold" fill="#111" text-anchor="end" letter-spacing="0.2">0.5</text>
<text x="447.2" y="770.6" font-family='"Liberation Sans", sans-serif' font-size="11.5" font-weight="bold" fill="#111" text-anchor="middle" >1Li</text>
<text x="486.9" y="770.6" font-family='"Liberation Sans", sans-serif' font-size="11.5" font-weight="bold" fill="#111" text-anchor="middle" >2Li</text>
<text x="526.6" y="770.6" font-family='"Liberation Sans", sans-serif' font-size="11.5" font-weight="bold" fill="#111" text-anchor="middle" >3Li</text>
<text x="566.4" y="770.6" font-family='"Liberation Sans", sans-serif' font-size="11.5" font-weight="bold" fill="#111" text-anchor="middle" >4Li</text>
<text x="606.1" y="770.6" font-family='"Liberation Sans", sans-serif' font-size="11.5" font-weight="bold" fill="#111" text-anchor="middle" >5Li</text>
<text x="645.8" y="770.6" font-family='"Liberation Sans", sans-serif' font-size="11.5" font-weight="bold" fill="#111" text-anchor="middle" >6Li</text>
<path d="M423.2 563.3H427.6M423.2 590.8H427.6M423.2 618.4H427.6M423.2 645.9H427.6M423.2 673.5H427.6M423.2 701.0H427.6M423.2 728.6H427.6M423.2 756.1H427.6M425.0 742.4H427.6M425.0 714.8H427.6M425.0 687.3H427.6M425.0 659.7H427.6M425.0 632.2H427.6M425.0 604.6H427.6M425.0 577.1H427.6M447.2 756.4V760.8M486.9 756.4V760.8M526.6 756.4V760.8M566.4 756.4V760.8M606.1 756.4V760.8M645.8 756.4V760.8M467.1 756.4V758.4M506.8 756.4V758.4M546.5 756.4V758.4M586.2 756.4V758.4M625.9 756.4V758.4M665.7 756.4V758.4" stroke="#000" stroke-width="1.05" fill="none"/>
<polyline points="447.2,730.5 486.9,714.5 526.6,730.8 566.4,681.2 606.1,682.6 645.8,679.6" fill="none" stroke="#000" stroke-width="1.75" stroke-linejoin="round"/>
<circle cx="447.2" cy="730.5" r="2.9" fill="#000"/>
<circle cx="446.5" cy="729.8" r="0.8" fill="#fff" fill-opacity="0.55"/>
<circle cx="486.9" cy="714.5" r="2.9" fill="#000"/>
<circle cx="486.2" cy="713.8" r="0.8" fill="#fff" fill-opacity="0.55"/>
<circle cx="526.6" cy="730.8" r="2.9" fill="#000"/>
<circle cx="525.9" cy="730.1" r="0.8" fill="#fff" fill-opacity="0.55"/>
<circle cx="566.4" cy="681.2" r="2.9" fill="#000"/>
<circle cx="565.7" cy="680.5" r="0.8" fill="#fff" fill-opacity="0.55"/>
<circle cx="606.1" cy="682.6" r="2.9" fill="#000"/>
<circle cx="605.4" cy="681.9" r="0.8" fill="#fff" fill-opacity="0.55"/>
<circle cx="645.8" cy="679.6" r="2.9" fill="#000"/>
<circle cx="645.1" cy="678.9" r="0.8" fill="#fff" fill-opacity="0.55"/>
<polyline points="447.2,732.5 486.9,684.2 526.6,632.2 566.4,681.2 606.1,630.0 645.8,580.1" fill="none" stroke="#808000" stroke-width="1.75" stroke-linejoin="round"/>
<circle cx="447.2" cy="732.5" r="3.2" fill="#808000"/>
<circle cx="446.5" cy="731.8" r="0.8" fill="#fff" fill-opacity="0.55"/>
<circle cx="486.9" cy="684.2" r="3.2" fill="#808000"/>
<circle cx="486.2" cy="683.5" r="0.8" fill="#fff" fill-opacity="0.55"/>
<circle cx="526.6" cy="632.2" r="3.2" fill="#808000"/>
<circle cx="525.9" cy="631.5" r="0.8" fill="#fff" fill-opacity="0.55"/>
<circle cx="566.4" cy="681.2" r="3.2" fill="#808000"/>
<circle cx="565.7" cy="680.5" r="0.8" fill="#fff" fill-opacity="0.55"/>
<circle cx="606.1" cy="630.0" r="3.2" fill="#808000"/>
<circle cx="605.4" cy="629.3" r="0.8" fill="#fff" fill-opacity="0.55"/>
<circle cx="645.8" cy="580.1" r="3.2" fill="#808000"/>
<circle cx="645.1" cy="579.4" r="0.8" fill="#fff" fill-opacity="0.55"/>
<polyline points="447.2,730.0 486.9,684.5 526.6,634.7 566.4,681.1 606.1,630.0 645.8,580.1" fill="none" stroke="#0000ff" stroke-width="1.75" stroke-linejoin="round"/>
<circle cx="447.2" cy="730.0" r="2.9" fill="#0000ff"/>
<circle cx="446.5" cy="729.3" r="0.8" fill="#fff" fill-opacity="0.55"/>
<circle cx="486.9" cy="684.5" r="2.9" fill="#0000ff"/>
<circle cx="486.2" cy="683.8" r="0.8" fill="#fff" fill-opacity="0.55"/>
<circle cx="526.6" cy="634.7" r="2.9" fill="#0000ff"/>
<circle cx="525.9" cy="634.0" r="0.8" fill="#fff" fill-opacity="0.55"/>
<circle cx="566.4" cy="681.1" r="2.9" fill="#0000ff"/>
<circle cx="565.7" cy="680.4" r="0.8" fill="#fff" fill-opacity="0.55"/>
<circle cx="606.1" cy="630.0" r="2.9" fill="#0000ff"/>
<circle cx="605.4" cy="629.3" r="0.8" fill="#fff" fill-opacity="0.55"/>
<circle cx="645.8" cy="580.1" r="2.9" fill="#0000ff"/>
<circle cx="645.1" cy="579.4" r="0.8" fill="#fff" fill-opacity="0.55"/>
<text transform="translate(394.7 659) rotate(-90)" font-family='"Liberation Sans", sans-serif' font-size="11.5" font-weight="bold" fill="#111" text-anchor="middle">Total charge from Li (electrons)</text>
<text x="546.3" y="792.3" font-family='"Liberation Sans", sans-serif' font-size="13.5" font-weight="bold" fill="#111" text-anchor="middle" textLength="128.6">Number of Li atoms</text>
<text x="617.6" y="586.4" font-family='"Liberation Serif", serif' font-size="15.8" font-weight="bold" fill="#808000" text-anchor="start" >SV</text>
<text x="641.3" y="601.9" font-family='"Liberation Serif", serif' font-size="15.8" font-weight="bold" fill="#0000ff" text-anchor="start" >DV</text>
<text x="641.4" y="670.3" font-family='"Liberation Serif", serif' font-size="15.8" font-weight="bold" fill="#111" text-anchor="start" >G</text>
<text x="528.5" y="817.9" font-family='"Liberation Serif", serif' font-size="18.5" font-weight="normal" fill="#111" text-anchor="middle" >(<tspan font-weight="bold">d</tspan>)</text>
</svg>
</body></html>
